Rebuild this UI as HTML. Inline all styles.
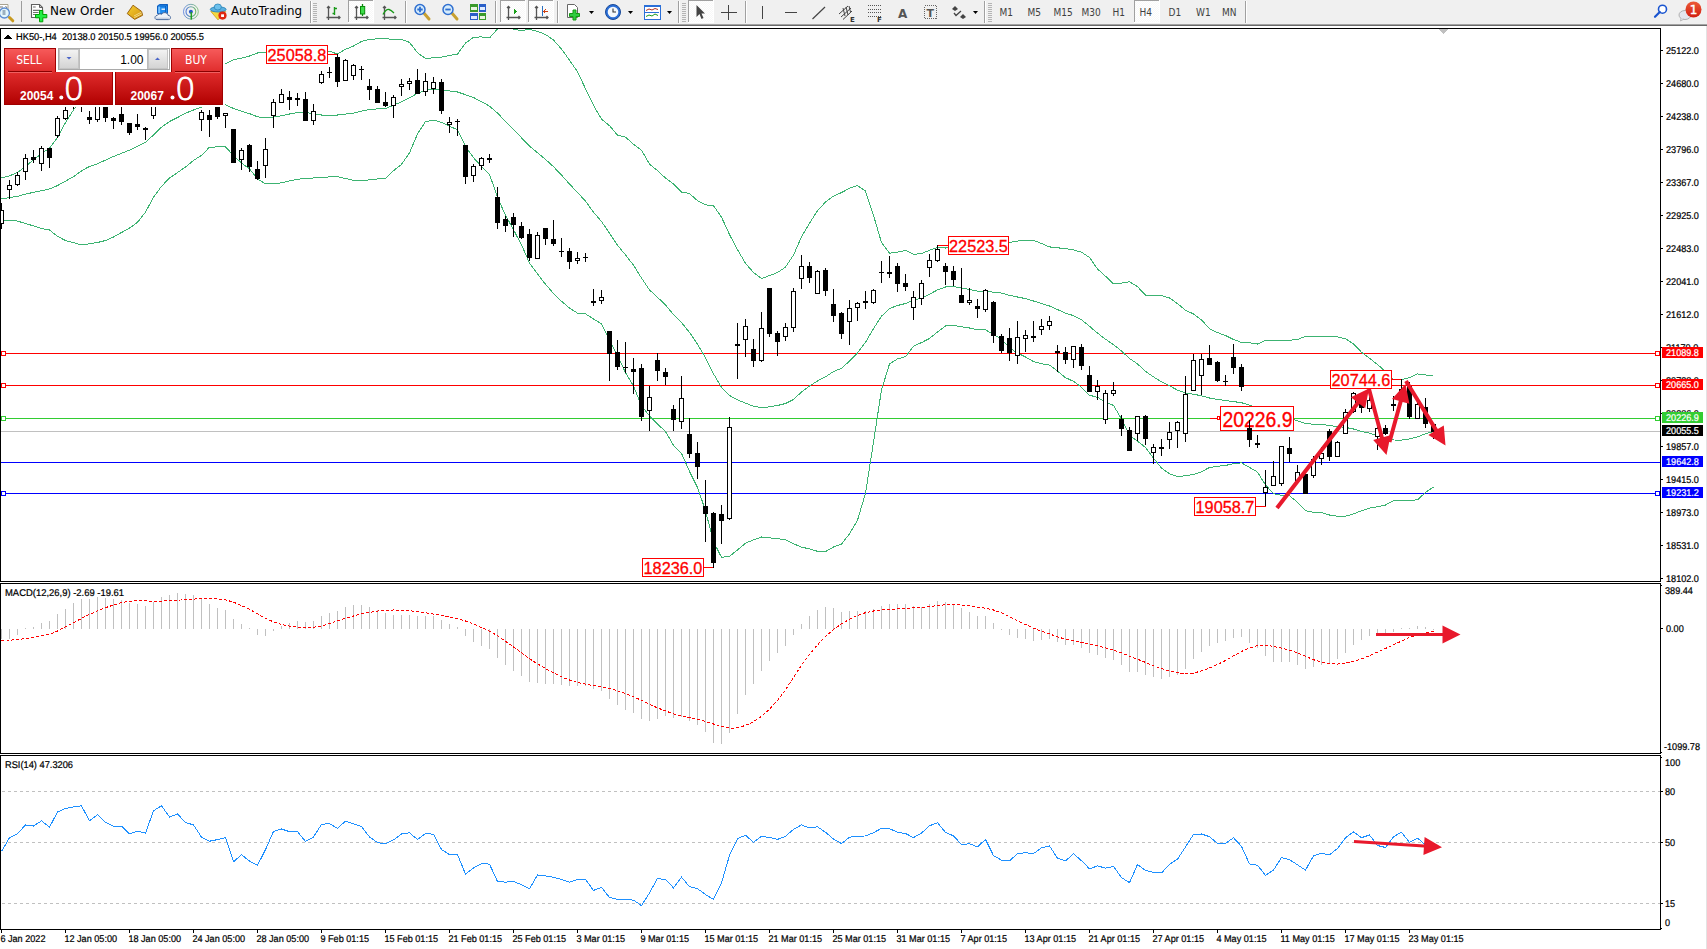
<!DOCTYPE html>
<html><head><meta charset="utf-8"><title>HK50 H4</title>
<style>
html,body{margin:0;padding:0;background:#fff;}
#root{position:relative;width:1707px;height:949px;overflow:hidden;background:#fff;}
text{white-space:pre}
</style></head><body><div id="root">
<svg width="1707" height="949" viewBox="0 0 1707 949" style="position:absolute;left:0;top:0" shape-rendering="crispEdges">
<defs><clipPath id="cm"><rect x="1" y="29" width="1659" height="552"/></clipPath><clipPath id="cd"><rect x="1" y="584" width="1659" height="169"/></clipPath><clipPath id="cr"><rect x="1" y="756" width="1659" height="173"/></clipPath></defs>
<defs><linearGradient id="pg" x1="0" y1="48" x2="0" y2="105" gradientUnits="userSpaceOnUse"><stop offset="0" stop-color="#f75c5c"/><stop offset="0.42" stop-color="#e02c2c"/><stop offset="1" stop-color="#b00000"/></linearGradient><linearGradient id="bg" x1="0" y1="49" x2="0" y2="69" gradientUnits="userSpaceOnUse"><stop offset="0" stop-color="#f4f4f4"/><stop offset="1" stop-color="#d2d2d2"/></linearGradient><pattern id="dith" width="2" height="2" patternUnits="userSpaceOnUse"><rect width="2" height="2" fill="#f8f8f8"/><rect width="1" height="1" fill="#fff"/><rect x="1" y="1" width="1" height="1" fill="#fff"/></pattern></defs>
<rect x="0" y="0" width="1707" height="24" fill="#f0f0f0"/>
<rect x="0" y="24" width="1707" height="1" fill="#a3a3a3"/>
<rect x="0" y="25" width="1707" height="1" fill="#696969"/>
<g shape-rendering="auto"><path d="M-1 4.5 H8 V16" fill="#fff" stroke="#a8a290" stroke-width="1"/><path d="M0 7 H3 M5.5 6 L7 8" stroke="#777" stroke-width="1"/><circle cx="4.4" cy="13" r="5" fill="#e4f6fc" stroke="#5a8cd2" stroke-width="1.3"/><rect x="2.5" y="10" width="3" height="5" fill="#9ab0c0"/><path d="M9.5 17.5 L12.8 20.8" stroke="#c89a20" stroke-width="3" stroke-linecap="round"/></g>
<rect x="21" y="1" width="1" height="21" fill="#9c9c9c"/>
<g shape-rendering="auto"><path d="M31.5 4.5 H39.5 L42.5 7.5 V17.5 H31.5 Z" fill="#fff" stroke="#606060" stroke-width="1.1"/><path d="M39.5 4.5 V7.5 H42.5" fill="none" stroke="#606060" stroke-width="1"/><path d="M33 7 H35.7 M33 10.4 H40 M33 12.5 H38.5 M33 14.5 H36" stroke="#707070" stroke-width="1.2"/><path d="M39.5 10.5 h3.3 v4 h4 v3.3 h-4 v4 h-3.3 v-4 h-4 v-3.3 h4 z" fill="#22ee44" stroke="#00a000" stroke-width="1"/></g>
<text x="50" y="15" style="font-family:'DejaVu Sans',sans-serif;font-size:12px">New Order</text>
<defs><linearGradient id="gold" x1="0" y1="0" x2="1" y2="1"><stop offset="0" stop-color="#f8d030"/><stop offset="1" stop-color="#d09010"/></linearGradient><linearGradient id="ring" x1="0" y1="0" x2="1" y2="0"><stop offset="0" stop-color="#3a6ad8"/><stop offset="1" stop-color="#58b050"/></linearGradient></defs>
<g shape-rendering="auto"><path d="M133 5.2 L141.6 11.4 L142.6 15.3 L134.6 19.4 L127.2 13.6 Z" fill="url(#gold)" stroke="#9a6410" stroke-width="1"/><path d="M134.3 17.6 L142 13.8 M134 16 L141.4 12.2" stroke="#f6e6a0" stroke-width="0.8"/></g>
<g shape-rendering="auto"><path d="M157.5 6 L159.5 4.5 H167.5 V13.5 H157.5 Z" fill="#1e8cf0" stroke="#1060c0" stroke-width="1"/><path d="M157.5 6 H165.5 L167.5 4.5 M165.5 6 V13" stroke="#0a58b8" stroke-width="0.8" fill="none"/><rect x="158.3" y="6.6" width="1.8" height="6.5" fill="#7cc4ff"/><rect x="161.5" y="8.5" width="3.5" height="1.4" fill="#e6f3ff"/><path d="M157 19.6 C154.3 19.6 154.2 15.6 157.3 15.4 C157.8 13.9 160.3 13.3 161.5 14.4 C162.6 11.8 167.6 11.9 168 15.3 C171.3 15.3 171.3 19.6 168.4 19.6 Z" fill="#eef2f8" stroke="#4a6a9c" stroke-width="1"/><path d="M156 18.3 H169.5" stroke="#c8d2e2" stroke-width="1.4"/></g>
<g shape-rendering="auto" fill="none"><circle cx="190.9" cy="11.7" r="7.4" stroke="url(#ring)" stroke-width="1" stroke-opacity="0.7"/><circle cx="190.9" cy="11.7" r="4.9" stroke="url(#ring)" stroke-width="1.1" stroke-opacity="0.85"/><circle cx="190.9" cy="11.7" r="2" fill="#2458c8"/><path d="M191.3 12 V19.6" stroke="#22a022" stroke-width="1.5"/></g>
<g shape-rendering="auto"><path d="M210.8 11.4 L225.8 11.4 L218 19.9 Z" fill="#f4d840" stroke="#d0a020" stroke-width="0.8"/><ellipse cx="218.2" cy="9.4" rx="7.9" ry="2.6" fill="#5ab0e0" stroke="#2a84b8" stroke-width="0.9"/><ellipse cx="217.8" cy="7" rx="3.6" ry="3" fill="#6cc0ec" stroke="#2a84b8" stroke-width="0.8"/><circle cx="222.5" cy="15.6" r="4.1" fill="#e02810"/><rect x="221.1" y="14.3" width="2.9" height="2.7" fill="#fff"/></g>
<text x="231" y="15" textLength="71" lengthAdjust="spacingAndGlyphs" style="font-family:'DejaVu Sans',sans-serif;font-size:12px">AutoTrading</text>
<rect x="310" y="1" width="1" height="22" fill="#a0a0a0"/><rect x="311" y="1" width="1" height="22" fill="#fff"/>
<rect x="313" y="3" width="4" height="1" fill="#b4b4b4"/><rect x="313" y="5" width="4" height="1" fill="#b4b4b4"/><rect x="313" y="7" width="4" height="1" fill="#b4b4b4"/><rect x="313" y="9" width="4" height="1" fill="#b4b4b4"/><rect x="313" y="11" width="4" height="1" fill="#b4b4b4"/><rect x="313" y="13" width="4" height="1" fill="#b4b4b4"/><rect x="313" y="15" width="4" height="1" fill="#b4b4b4"/><rect x="313" y="17" width="4" height="1" fill="#b4b4b4"/><rect x="313" y="19" width="4" height="1" fill="#b4b4b4"/><rect x="313" y="21" width="4" height="1" fill="#b4b4b4"/>
<g stroke="#555" stroke-width="1.3" fill="none" shape-rendering="auto"><path d="M328.5 20 V6.5 M327.0 8 L328.5 6.5 L330.0 8 M326.5 17.5 H340.0 M338.5 16.0 L340.0 17.5 L338.5 19.0"/></g>
<path d="M334.5 7 V15 M334.5 8.5 H337 M332.5 13.5 H334.5" stroke="#1a9a1a" stroke-width="1.4" fill="none" shape-rendering="auto"/>
<rect x="348" y="0" width="25" height="22" fill="url(#dith)"/><rect x="348" y="0" width="25" height="1" fill="#a0a0a0"/><rect x="348" y="0" width="1" height="22" fill="#a0a0a0"/><rect x="373" y="0" width="1" height="23" fill="#fff"/><rect x="348" y="22" width="26" height="1" fill="#fff"/>
<g stroke="#555" stroke-width="1.3" fill="none" shape-rendering="auto"><path d="M356.5 20 V6.5 M355.0 8 L356.5 6.5 L358.0 8 M354.5 17.5 H368.0 M366.5 16.0 L368.0 17.5 L366.5 19.0"/></g>
<g shape-rendering="auto"><path d="M362.5 4 V16" stroke="#0a8a0a" stroke-width="1.3"/><rect x="360.5" y="6.5" width="4.2" height="7.5" fill="#3ddc4a" stroke="#0a8a0a" stroke-width="1"/></g>
<g stroke="#555" stroke-width="1.3" fill="none" shape-rendering="auto"><path d="M384.5 20 V6.5 M383.0 8 L384.5 6.5 L386.0 8 M382.5 17.5 H396.0 M394.5 16.0 L396.0 17.5 L394.5 19.0"/></g>
<path d="M383 14.5 Q386 9 389 9.5 Q391 10 394 13" stroke="#1a9a1a" stroke-width="1.3" fill="none" shape-rendering="auto"/>
<rect x="405" y="1" width="1" height="22" fill="#a0a0a0"/><rect x="406" y="1" width="1" height="22" fill="#fff"/>
<g shape-rendering="auto"><path d="M423 12 L429 19" stroke="#c8a030" stroke-width="3" stroke-linecap="round"/><circle cx="420" cy="9.5" r="5" fill="#d6ecfc" stroke="#2f6fd0" stroke-width="1.5"/><path d="M417.3 9.5 H422.7 M420 6.8 V12.2" stroke="#2f6fd0" stroke-width="1.8"/></g>
<g shape-rendering="auto"><path d="M451 12 L457 19" stroke="#c8a030" stroke-width="3" stroke-linecap="round"/><circle cx="448" cy="9.5" r="5" fill="#d6ecfc" stroke="#2f6fd0" stroke-width="1.5"/><path d="M445.3 9.5 H450.7" stroke="#2f6fd0" stroke-width="1.8"/></g>
<g><rect x="470" y="4" width="7.5" height="7.5" fill="#3a9a2a"/><rect x="478.5" y="4" width="7.5" height="7.5" fill="#2a5fc8"/><rect x="470" y="12.5" width="7.5" height="7.5" fill="#2a5fc8"/><rect x="478.5" y="12.5" width="7.5" height="7.5" fill="#3a9a2a"/><rect x="471" y="7" width="5.5" height="3" fill="#e8f4e0"/><rect x="479.5" y="7" width="5.5" height="3" fill="#e0ecff"/><rect x="471" y="15.5" width="5.5" height="3" fill="#e0ecff"/><rect x="479.5" y="15.5" width="5.5" height="3" fill="#e8f4e0"/></g>
<rect x="495" y="1" width="1" height="22" fill="#a0a0a0"/><rect x="496" y="1" width="1" height="22" fill="#fff"/>
<rect x="500" y="0" width="25" height="22" fill="url(#dith)"/><rect x="500" y="0" width="25" height="1" fill="#a0a0a0"/><rect x="500" y="0" width="1" height="22" fill="#a0a0a0"/><rect x="525" y="0" width="1" height="23" fill="#fff"/><rect x="500" y="22" width="26" height="1" fill="#fff"/>
<g stroke="#555" stroke-width="1.3" fill="none" shape-rendering="auto"><path d="M508.5 20 V6.5 M507.0 8 L508.5 6.5 L510.0 8 M506.5 17.5 H520.0 M518.5 16.0 L520.0 17.5 L518.5 19.0"/></g>
<path d="M513.5 8 L517.5 11.5 L513.5 15 Z" fill="#1aa01a"/>
<rect x="528" y="0" width="25" height="22" fill="url(#dith)"/><rect x="528" y="0" width="25" height="1" fill="#a0a0a0"/><rect x="528" y="0" width="1" height="22" fill="#a0a0a0"/><rect x="553" y="0" width="1" height="23" fill="#fff"/><rect x="528" y="22" width="26" height="1" fill="#fff"/>
<g stroke="#555" stroke-width="1.3" fill="none" shape-rendering="auto"><path d="M536.5 20 V6.5 M535.0 8 L536.5 6.5 L538.0 8 M534.5 17.5 H548.0 M546.5 16.0 L548.0 17.5 L546.5 19.0"/></g>
<path d="M542.5 6 V16" stroke="#2a70c0" stroke-width="1.3"/><path d="M548 11.5 H544 M545.5 9.5 L543.5 11.5 L545.5 13.5" stroke="#d04010" stroke-width="1.3" fill="none"/>
<rect x="557" y="1" width="1" height="22" fill="#a0a0a0"/><rect x="558" y="1" width="1" height="22" fill="#fff"/>
<g shape-rendering="auto"><path d="M567.5 4.5 H574.5 L577.5 7.5 V17.5 H567.5 Z" fill="#fff" stroke="#666" stroke-width="1"/><path d="M573 10 h3 v3.5 h3.5 v3 h-3.5 v3.5 h-3 v-3.5 h-3.5 v-3 h3.5 z" fill="#2ecc40" stroke="#129a12" stroke-width="1"/></g>
<path d="M589 11 H594 L591.5 14 Z" fill="#000" shape-rendering="auto"/>
<g shape-rendering="auto"><circle cx="613" cy="12" r="7.5" fill="#2a6fd8" stroke="#1a4a98" stroke-width="1"/><circle cx="613" cy="12" r="5.3" fill="#f4f8fc"/><path d="M613 8.5 V12 H616" stroke="#333" stroke-width="1.1" fill="none"/></g>
<path d="M628 11 H633 L630.5 14 Z" fill="#000" shape-rendering="auto"/>
<g><rect x="644" y="5" width="16" height="14" fill="#fff" stroke="#2a6fd8" stroke-width="1"/><rect x="644" y="5" width="16" height="2" fill="#2a6fd8"/><rect x="645" y="12" width="14" height="1" fill="#2a6fd8"/><path d="M646 10.5 L649 9 L652 10 L655 8.5 L658 9.5" stroke="#b03020" stroke-width="1" fill="none" shape-rendering="auto"/><path d="M646 16.5 L649 15 L652 16 L655 14 L658 15.5" stroke="#1a9a1a" stroke-width="1" fill="none" shape-rendering="auto"/></g>
<path d="M667 11 H672 L669.5 14 Z" fill="#000" shape-rendering="auto"/>
<rect x="678" y="1" width="1" height="22" fill="#a0a0a0"/><rect x="679" y="1" width="1" height="22" fill="#fff"/>
<rect x="682" y="3" width="4" height="1" fill="#b4b4b4"/><rect x="682" y="5" width="4" height="1" fill="#b4b4b4"/><rect x="682" y="7" width="4" height="1" fill="#b4b4b4"/><rect x="682" y="9" width="4" height="1" fill="#b4b4b4"/><rect x="682" y="11" width="4" height="1" fill="#b4b4b4"/><rect x="682" y="13" width="4" height="1" fill="#b4b4b4"/><rect x="682" y="15" width="4" height="1" fill="#b4b4b4"/><rect x="682" y="17" width="4" height="1" fill="#b4b4b4"/><rect x="682" y="19" width="4" height="1" fill="#b4b4b4"/><rect x="682" y="21" width="4" height="1" fill="#b4b4b4"/>
<rect x="688" y="0" width="25" height="22" fill="url(#dith)"/><rect x="688" y="0" width="25" height="1" fill="#a0a0a0"/><rect x="688" y="0" width="1" height="22" fill="#a0a0a0"/><rect x="713" y="0" width="1" height="23" fill="#fff"/><rect x="688" y="22" width="26" height="1" fill="#fff"/>
<path d="M696.5 5 L696.5 17 L699.5 14 L701.5 19 L703.5 18 L701.5 13.5 L705 13.5 Z" fill="#444" shape-rendering="auto"/>
<path d="M721 12.5 H737 M728.5 5 V20" stroke="#444" stroke-width="1.2"/>
<rect x="745" y="1" width="1" height="22" fill="#a0a0a0"/><rect x="746" y="1" width="1" height="22" fill="#fff"/>
<rect x="762" y="6" width="1.3" height="13" fill="#444"/>
<rect x="785" y="12" width="12" height="1.3" fill="#444"/>
<path d="M812.5 19 L825 7" stroke="#444" stroke-width="1.2" shape-rendering="auto"/>
<g shape-rendering="auto" stroke="#444" stroke-width="1" fill="none"><path d="M839 14 L848 6 M841 17 L851 8 M843 19.5 L852 11 M843 8 L845 16 M846 7 L848 15 M849 6 L850.5 12"/></g><text x="850" y="21.5" style="font-family:'DejaVu Sans',sans-serif;font-size:7px;font-weight:bold;fill:#333">E</text>
<g fill="#555"><rect x="868" y="5" width="1" height="1"/><rect x="870" y="5" width="1" height="1"/><rect x="872" y="5" width="1" height="1"/><rect x="874" y="5" width="1" height="1"/><rect x="876" y="5" width="1" height="1"/><rect x="878" y="5" width="1" height="1"/><rect x="880" y="5" width="1" height="1"/><rect x="868" y="9" width="1" height="1"/><rect x="870" y="9" width="1" height="1"/><rect x="872" y="9" width="1" height="1"/><rect x="874" y="9" width="1" height="1"/><rect x="876" y="9" width="1" height="1"/><rect x="878" y="9" width="1" height="1"/><rect x="880" y="9" width="1" height="1"/><rect x="868" y="12" width="1" height="1"/><rect x="870" y="12" width="1" height="1"/><rect x="872" y="12" width="1" height="1"/><rect x="874" y="12" width="1" height="1"/><rect x="876" y="12" width="1" height="1"/><rect x="878" y="12" width="1" height="1"/><rect x="880" y="12" width="1" height="1"/><rect x="868" y="16" width="1" height="1"/><rect x="870" y="16" width="1" height="1"/><rect x="872" y="16" width="1" height="1"/><rect x="874" y="16" width="1" height="1"/><rect x="876" y="16" width="1" height="1"/><rect x="878" y="16" width="1" height="1"/><rect x="880" y="16" width="1" height="1"/></g><text x="877" y="22" style="font-family:'DejaVu Sans',sans-serif;font-size:7px;font-weight:bold;fill:#333">F</text>
<text x="898" y="17.5" style="font-family:'DejaVu Sans',sans-serif;font-size:12px;font-weight:bold;fill:#555">A</text>
<rect x="924.5" y="5.5" width="12" height="13" fill="none" stroke="#666" stroke-width="1" stroke-dasharray="1 1"/><text x="926.5" y="16.5" style="font-family:'DejaVu Sans',sans-serif;font-size:11px;font-weight:bold;fill:#555">T</text>
<g shape-rendering="auto" fill="#444"><path d="M955 6 L958 9 L955 11 L952 9 Z"/><path d="M963 14 L966 17 L963 19 L960 17 Z"/><path d="M954 13 L956 15.5 L961 11" stroke="#444" stroke-width="1.3" fill="none"/></g>
<path d="M973 11 H978 L975.5 14 Z" fill="#000" shape-rendering="auto"/>
<rect x="984" y="1" width="1" height="22" fill="#a0a0a0"/><rect x="985" y="1" width="1" height="22" fill="#fff"/>
<rect x="988" y="3" width="4" height="1" fill="#b4b4b4"/><rect x="988" y="5" width="4" height="1" fill="#b4b4b4"/><rect x="988" y="7" width="4" height="1" fill="#b4b4b4"/><rect x="988" y="9" width="4" height="1" fill="#b4b4b4"/><rect x="988" y="11" width="4" height="1" fill="#b4b4b4"/><rect x="988" y="13" width="4" height="1" fill="#b4b4b4"/><rect x="988" y="15" width="4" height="1" fill="#b4b4b4"/><rect x="988" y="17" width="4" height="1" fill="#b4b4b4"/><rect x="988" y="19" width="4" height="1" fill="#b4b4b4"/><rect x="988" y="21" width="4" height="1" fill="#b4b4b4"/>
<rect x="1134" y="0" width="25" height="22" fill="url(#dith)"/><rect x="1134" y="0" width="25" height="1" fill="#a0a0a0"/><rect x="1134" y="0" width="1" height="22" fill="#a0a0a0"/><rect x="1159" y="0" width="1" height="23" fill="#fff"/><rect x="1134" y="22" width="26" height="1" fill="#fff"/>
<text x="999.5" y="16" style="font-family:'DejaVu Sans Condensed','DejaVu Sans',sans-serif;font-stretch:condensed;font-size:10px;fill:#404040">M1</text>
<text x="1027.5" y="16" style="font-family:'DejaVu Sans Condensed','DejaVu Sans',sans-serif;font-stretch:condensed;font-size:10px;fill:#404040">M5</text>
<text x="1053.5" y="16" style="font-family:'DejaVu Sans Condensed','DejaVu Sans',sans-serif;font-stretch:condensed;font-size:10px;fill:#404040">M15</text>
<text x="1081.5" y="16" style="font-family:'DejaVu Sans Condensed','DejaVu Sans',sans-serif;font-stretch:condensed;font-size:10px;fill:#404040">M30</text>
<text x="1112.5" y="16" style="font-family:'DejaVu Sans Condensed','DejaVu Sans',sans-serif;font-stretch:condensed;font-size:10px;fill:#404040">H1</text>
<text x="1139.5" y="16" style="font-family:'DejaVu Sans Condensed','DejaVu Sans',sans-serif;font-stretch:condensed;font-size:10px;fill:#404040">H4</text>
<text x="1168.5" y="16" style="font-family:'DejaVu Sans Condensed','DejaVu Sans',sans-serif;font-stretch:condensed;font-size:10px;fill:#404040">D1</text>
<text x="1196" y="16" style="font-family:'DejaVu Sans Condensed','DejaVu Sans',sans-serif;font-stretch:condensed;font-size:10px;fill:#404040">W1</text>
<text x="1222" y="16" style="font-family:'DejaVu Sans Condensed','DejaVu Sans',sans-serif;font-stretch:condensed;font-size:10px;fill:#404040">MN</text>
<rect x="1245" y="1" width="1" height="22" fill="#a0a0a0"/><rect x="1246" y="1" width="1" height="22" fill="#fff"/>
<g shape-rendering="auto"><circle cx="1662.5" cy="9.2" r="4" fill="#fff" stroke="#1a55d0" stroke-width="1.6"/><path d="M1659.8 12 L1655 16.8" stroke="#1a55d0" stroke-width="2.2" stroke-linecap="round"/></g>
<g shape-rendering="auto"><ellipse cx="1685" cy="15" rx="6" ry="4.5" fill="#e4e6ee" stroke="#b0b0b0" stroke-width="1"/><path d="M1681 18 L1680.5 21 L1684 19" fill="#e4e6ee" stroke="#b0b0b0" stroke-width="0.8"/><defs><linearGradient id="badge" x1="0" y1="0" x2="0" y2="1"><stop offset="0" stop-color="#ec5a38"/><stop offset="1" stop-color="#d21e10"/></linearGradient></defs><circle cx="1693.5" cy="9.5" r="8" fill="url(#badge)"/><text x="1693.5" y="14" text-anchor="middle" style="font-family:'DejaVu Sans',sans-serif;font-size:12px;fill:#fff;stroke:#fff;stroke-width:0.4px">1</text></g>
<rect x="1706" y="26" width="1" height="923" fill="#e3e3e3"/>
<g clip-path="url(#cm)">
<rect x="1" y="353" width="1659" height="1" fill="#ff0000"/>
<rect x="1.5" y="351.5" width="4" height="4" fill="#fff" stroke="#ff0000" stroke-width="1"/>
<rect x="1655.5" y="351.5" width="4" height="4" fill="#fff" stroke="#ff0000" stroke-width="1"/>
<rect x="1" y="385" width="1659" height="1" fill="#ff0000"/>
<rect x="1.5" y="383.5" width="4" height="4" fill="#fff" stroke="#ff0000" stroke-width="1"/>
<rect x="1655.5" y="383.5" width="4" height="4" fill="#fff" stroke="#ff0000" stroke-width="1"/>
<rect x="1" y="418" width="1659" height="1" fill="#32cd32"/>
<rect x="1.5" y="416.5" width="4" height="4" fill="#fff" stroke="#32cd32" stroke-width="1"/>
<rect x="1655.5" y="416.5" width="4" height="4" fill="#fff" stroke="#32cd32" stroke-width="1"/>
<rect x="1" y="431" width="1659" height="1" fill="#c0c0c0"/>
<rect x="1" y="462" width="1659" height="1" fill="#0000ff"/>
<rect x="1" y="493" width="1659" height="1" fill="#0000ff"/>
<rect x="1.5" y="491.5" width="4" height="4" fill="#fff" stroke="#0000ff" stroke-width="1"/>
<rect x="1655.5" y="491.5" width="4" height="4" fill="#fff" stroke="#0000ff" stroke-width="1"/>
<polyline points="1.5,178.0 9.5,175.9 17.5,172.5 25.5,166.3 33.5,160.0 41.5,153.5 49.5,148.2 57.5,137.5 65.5,122.5 73.5,110.0 81.5,98.5 89.5,92.5 97.5,88.5 105.5,85.5 113.5,82.5 121.5,80.5 129.5,78.5 137.5,76.5 145.5,74.5 153.5,72.5 161.5,70.5 169.5,68.5 177.5,66.5 185.5,65.5 193.5,64.5 201.5,64.0 209.5,64.0 217.5,63.9 225.5,63.8 233.5,59.8 241.5,58.2 249.5,56.0 257.5,53.0 265.5,52.5 273.5,52.5 281.5,52.5 289.5,52.0 297.5,52.0 305.5,52.0 313.5,51.8 321.5,51.5 329.5,51.3 337.5,54.0 345.5,49.3 353.5,46.0 361.5,41.4 369.5,39.5 377.5,38.8 385.5,38.5 393.5,39.8 401.5,39.4 409.5,42.4 417.5,52.8 425.5,58.4 433.5,57.8 441.5,57.2 449.5,55.5 457.5,54.1 465.5,43.1 473.5,37.3 481.5,36.9 489.5,37.9 497.5,29.0 505.5,27.6 513.5,29.0 521.5,30.7 529.5,29.3 537.5,31.4 545.5,34.5 553.5,40.0 561.5,49.0 569.5,60.2 577.5,71.7 585.5,88.7 593.5,105.4 601.5,119.1 609.5,125.7 617.5,135.2 625.5,137.2 633.5,144.2 641.5,150.3 649.5,164.1 657.5,170.6 665.5,178.1 673.5,183.9 681.5,192.0 689.5,193.5 697.5,200.7 705.5,204.8 713.5,205.7 721.5,217.1 729.5,234.6 737.5,249.7 745.5,263.2 753.5,272.6 761.5,278.5 769.5,275.6 777.5,272.5 785.5,267.1 793.5,255.1 801.5,236.8 809.5,223.2 817.5,210.8 825.5,202.0 833.5,196.1 841.5,192.6 849.5,188.2 857.5,185.5 865.5,191.1 873.5,215.3 881.5,242.6 889.5,253.3 897.5,252.1 905.5,250.4 913.5,254.4 921.5,253.6 929.5,250.3 937.5,247.5 945.5,248.0 953.5,247.4 961.5,249.7 969.5,250.7 977.5,252.5 985.5,252.5 993.5,250.1 1001.5,247.0 1009.5,242.5 1017.5,241.1 1025.5,240.3 1033.5,240.4 1041.5,243.5 1049.5,246.9 1057.5,247.8 1065.5,248.6 1073.5,249.9 1081.5,252.2 1089.5,257.4 1097.5,269.0 1105.5,276.2 1113.5,284.0 1121.5,283.1 1129.5,281.7 1137.5,286.7 1145.5,295.2 1153.5,295.7 1161.5,295.7 1169.5,297.9 1177.5,303.6 1185.5,310.3 1193.5,313.9 1201.5,320.0 1209.5,328.6 1217.5,332.6 1225.5,335.5 1233.5,339.5 1241.5,342.4 1249.5,342.8 1257.5,344.0 1265.5,340.4 1273.5,340.4 1281.5,340.3 1289.5,340.2 1297.5,339.5 1305.5,336.4 1313.5,336.2 1321.5,336.1 1329.5,336.2 1337.5,336.9 1345.5,338.7 1353.5,344.1 1361.5,352.2 1369.5,358.3 1377.5,364.5 1385.5,371.5 1393.5,379.2 1401.5,379.6 1409.5,377.6 1417.5,373.9 1425.5,374.9 1433.5,376.1" fill="none" stroke="#3cb371" stroke-width="1" />
<polyline points="1.5,198.9 9.5,197.7 17.5,196.3 25.5,194.2 33.5,192.3 41.5,190.7 49.5,189.0 57.5,185.6 65.5,181.1 73.5,176.7 81.5,170.9 89.5,166.4 97.5,163.8 105.5,160.1 113.5,156.5 121.5,153.3 129.5,150.1 137.5,146.3 145.5,142.2 153.5,135.0 161.5,127.2 169.5,121.5 177.5,117.5 185.5,113.2 193.5,110.0 201.5,107.2 209.5,105.5 217.5,105.0 225.5,104.8 233.5,108.5 241.5,111.3 249.5,113.6 257.5,116.8 265.5,117.8 273.5,117.0 281.5,115.7 289.5,114.0 297.5,112.6 305.5,112.5 313.5,113.7 321.5,115.0 329.5,115.0 337.5,115.0 345.5,114.1 353.5,113.2 361.5,111.1 369.5,109.6 377.5,108.9 385.5,108.5 393.5,105.2 401.5,101.9 409.5,97.7 417.5,93.4 425.5,90.0 433.5,89.0 441.5,89.8 449.5,90.9 457.5,92.0 465.5,94.7 473.5,97.5 481.5,101.7 489.5,106.1 497.5,113.1 505.5,121.4 513.5,129.4 521.5,137.8 529.5,146.1 537.5,152.7 545.5,159.4 553.5,166.7 561.5,175.1 569.5,184.1 577.5,192.4 585.5,201.2 593.5,212.2 601.5,221.5 609.5,233.1 617.5,245.3 625.5,254.9 633.5,265.2 641.5,278.1 649.5,289.9 657.5,297.3 665.5,304.9 673.5,314.6 681.5,322.6 689.5,332.4 697.5,344.1 705.5,357.8 713.5,373.8 721.5,387.2 729.5,395.5 737.5,399.8 745.5,403.2 753.5,406.2 761.5,407.7 769.5,406.8 777.5,405.5 785.5,403.5 793.5,399.5 801.5,392.0 809.5,386.0 817.5,381.0 825.5,376.8 833.5,371.6 841.5,368.3 849.5,361.1 857.5,352.8 865.5,342.3 873.5,328.6 881.5,316.2 889.5,308.6 897.5,305.5 905.5,303.5 913.5,300.3 921.5,298.1 929.5,294.4 937.5,289.8 945.5,287.0 953.5,286.4 961.5,288.2 969.5,289.4 977.5,291.2 985.5,291.2 993.5,292.2 1001.5,293.1 1009.5,295.3 1017.5,297.0 1025.5,298.6 1033.5,301.0 1041.5,303.6 1049.5,306.0 1057.5,309.5 1065.5,313.2 1073.5,315.6 1081.5,319.7 1089.5,326.3 1097.5,333.1 1105.5,339.2 1113.5,344.7 1121.5,351.0 1129.5,358.5 1137.5,363.9 1145.5,371.4 1153.5,376.9 1161.5,381.9 1169.5,385.8 1177.5,390.1 1185.5,393.0 1193.5,394.2 1201.5,395.8 1209.5,398.0 1217.5,399.4 1225.5,400.5 1233.5,401.6 1241.5,402.7 1249.5,405.1 1257.5,408.1 1265.5,412.7 1273.5,417.0 1281.5,417.9 1289.5,418.0 1297.5,420.8 1305.5,423.6 1313.5,424.2 1321.5,424.3 1329.5,425.6 1337.5,426.6 1345.5,427.4 1353.5,429.0 1361.5,431.5 1369.5,433.2 1377.5,435.6 1385.5,438.2 1393.5,440.0 1401.5,440.1 1409.5,438.9 1417.5,436.9 1425.5,433.7 1433.5,431.5" fill="none" stroke="#3cb371" stroke-width="1" />
<polyline points="1.5,220.3 9.5,220.1 17.5,221.1 25.5,223.5 33.5,225.9 41.5,228.6 49.5,229.9 57.5,236.4 65.5,240.5 73.5,242.7 81.5,245.0 89.5,243.7 97.5,242.5 105.5,240.5 113.5,237.0 121.5,232.5 129.5,228.1 137.5,222.3 145.5,212.1 153.5,197.2 161.5,186.3 169.5,178.1 177.5,172.6 185.5,167.0 193.5,160.5 201.5,155.3 209.5,147.2 217.5,146.9 225.5,146.9 233.5,155.5 241.5,163.0 249.5,168.8 257.5,179.0 265.5,183.7 273.5,183.7 281.5,182.9 289.5,180.9 297.5,179.3 305.5,178.5 313.5,178.0 321.5,177.5 329.5,176.9 337.5,176.7 345.5,178.5 353.5,180.4 361.5,180.8 369.5,179.8 377.5,179.0 385.5,178.6 393.5,170.7 401.5,164.4 409.5,152.9 417.5,133.9 425.5,121.6 433.5,120.1 441.5,122.4 449.5,126.3 457.5,129.8 465.5,146.4 473.5,157.7 481.5,166.5 489.5,174.3 497.5,197.3 505.5,215.2 513.5,229.7 521.5,244.9 529.5,263.0 537.5,274.0 545.5,284.3 553.5,293.4 561.5,301.2 569.5,308.0 577.5,313.1 585.5,313.8 593.5,319.0 601.5,323.9 609.5,340.4 617.5,355.5 625.5,372.6 633.5,386.1 641.5,405.9 649.5,415.8 657.5,424.0 665.5,431.6 673.5,445.3 681.5,453.3 689.5,471.4 697.5,487.4 705.5,510.7 713.5,541.8 721.5,557.3 729.5,556.3 737.5,550.0 745.5,543.2 753.5,539.8 761.5,537.0 769.5,537.9 777.5,538.5 785.5,539.9 793.5,543.8 801.5,547.1 809.5,548.9 817.5,551.3 825.5,551.5 833.5,547.0 841.5,544.0 849.5,533.9 857.5,520.2 865.5,493.4 873.5,442.0 881.5,389.9 889.5,363.9 897.5,358.9 905.5,356.7 913.5,346.2 921.5,342.6 929.5,338.5 937.5,332.0 945.5,326.0 953.5,325.4 961.5,326.8 969.5,328.0 977.5,329.9 985.5,329.9 993.5,334.3 1001.5,339.1 1009.5,348.1 1017.5,352.9 1025.5,357.0 1033.5,361.6 1041.5,363.8 1049.5,365.1 1057.5,371.1 1065.5,377.7 1073.5,381.3 1081.5,387.3 1089.5,395.2 1097.5,397.3 1105.5,402.2 1113.5,405.4 1121.5,418.9 1129.5,435.3 1137.5,441.2 1145.5,447.5 1153.5,458.2 1161.5,468.1 1169.5,473.8 1177.5,476.5 1185.5,475.8 1193.5,474.5 1201.5,471.7 1209.5,467.5 1217.5,466.3 1225.5,465.5 1233.5,463.6 1241.5,462.9 1249.5,467.4 1257.5,472.1 1265.5,485.0 1273.5,493.6 1281.5,495.4 1289.5,495.8 1297.5,502.2 1305.5,510.8 1313.5,512.2 1321.5,512.6 1329.5,515.0 1337.5,516.2 1345.5,516.2 1353.5,513.9 1361.5,510.8 1369.5,508.1 1377.5,506.7 1385.5,505.0 1393.5,500.8 1401.5,500.6 1409.5,500.2 1417.5,499.9 1425.5,492.5 1433.5,487.0" fill="none" stroke="#3cb371" stroke-width="1" />
<rect x="328" y="54" width="10" height="1" fill="#ff0000"/>
<rect x="266.5" y="45.5" width="61" height="18" fill="#fff" stroke="#ff0000" stroke-width="1"/>
<text x="297.0" y="60.7" text-anchor="middle" style="font-family:'Liberation Sans',sans-serif;font-size:16.3px;fill:#ff0000;stroke:#ff0000;stroke-width:0.3px">25058.8</text>
<rect x="937" y="245" width="12" height="1" fill="#ff0000"/>
<rect x="948.5" y="236.5" width="60" height="18" fill="#fff" stroke="#ff0000" stroke-width="1"/>
<text x="978.5" y="251.7" text-anchor="middle" style="font-family:'Liberation Sans',sans-serif;font-size:16.3px;fill:#ff0000;stroke:#ff0000;stroke-width:0.3px">22523.5</text>
<rect x="704" y="567" width="10" height="1" fill="#ff0000"/>
<rect x="642.5" y="558.5" width="61" height="18" fill="#fff" stroke="#ff0000" stroke-width="1"/>
<text x="673.0" y="573.7" text-anchor="middle" style="font-family:'Liberation Sans',sans-serif;font-size:16.3px;fill:#ff0000;stroke:#ff0000;stroke-width:0.3px">18236.0</text>
<rect x="1392" y="379" width="10" height="1" fill="#ff0000"/>
<rect x="1330.5" y="370.5" width="61" height="18" fill="#fff" stroke="#ff0000" stroke-width="1"/>
<text x="1361.0" y="385.7" text-anchor="middle" style="font-family:'Liberation Sans',sans-serif;font-size:16.3px;fill:#ff0000;stroke:#ff0000;stroke-width:0.3px">20744.6</text>
<rect x="1256" y="506" width="10" height="1" fill="#ff0000"/>
<rect x="1194.5" y="497.5" width="61" height="18" fill="#fff" stroke="#ff0000" stroke-width="1"/>
<text x="1225.0" y="512.7" text-anchor="middle" style="font-family:'Liberation Sans',sans-serif;font-size:16.3px;fill:#ff0000;stroke:#ff0000;stroke-width:0.3px">19058.7</text>
<rect x="1210" y="418" width="8" height="1" fill="#ff0000"/>
<rect x="1217.5" y="416.5" width="2" height="3" fill="#fff" stroke="#ff0000" stroke-width="1"/>
<rect x="1220.5" y="406.5" width="73" height="24" fill="#fff" stroke="#ff0000" stroke-width="1"/>
<text x="1257.5" y="427" text-anchor="middle" style="font-family:'Liberation Sans',sans-serif;font-size:22.5px;fill:#ff0000;stroke:#ff0000;stroke-width:0.35px" textLength="70" lengthAdjust="spacingAndGlyphs">20226.9</text>
<g fill="#000">
<rect x="1" y="203" width="1" height="26"/>
<rect x="-1" y="210" width="5" height="14"/>
<rect x="0" y="211" width="3" height="12" fill="#fff"/>
<rect x="9" y="180" width="1" height="19"/>
<rect x="7" y="185" width="5" height="5"/>
<rect x="8" y="186" width="3" height="3" fill="#fff"/>
<rect x="17" y="172" width="1" height="14"/>
<rect x="15" y="175" width="5" height="10"/>
<rect x="16" y="176" width="3" height="8" fill="#fff"/>
<rect x="25" y="154" width="1" height="26"/>
<rect x="23" y="158" width="5" height="14"/>
<rect x="24" y="159" width="3" height="12" fill="#fff"/>
<rect x="33" y="150" width="1" height="13"/>
<rect x="31" y="157" width="5" height="3"/>
<rect x="41" y="146" width="1" height="25"/>
<rect x="39" y="148" width="5" height="16"/>
<rect x="40" y="149" width="3" height="14" fill="#fff"/>
<rect x="49" y="148" width="1" height="20"/>
<rect x="47" y="148" width="5" height="10"/>
<rect x="57" y="116" width="1" height="22"/>
<rect x="55" y="118" width="5" height="18"/>
<rect x="56" y="119" width="3" height="16" fill="#fff"/>
<rect x="65" y="107" width="1" height="13"/>
<rect x="63" y="110" width="5" height="9"/>
<rect x="64" y="111" width="3" height="7" fill="#fff"/>
<rect x="73" y="95" width="1" height="14"/>
<rect x="71" y="98" width="5" height="6"/>
<rect x="72" y="99" width="3" height="4" fill="#fff"/>
<rect x="81" y="90" width="1" height="22"/>
<rect x="79" y="95" width="5" height="5"/>
<rect x="89" y="111" width="1" height="13"/>
<rect x="87" y="117" width="5" height="3"/>
<rect x="97" y="95" width="1" height="27"/>
<rect x="95" y="98" width="5" height="22"/>
<rect x="96" y="99" width="3" height="20" fill="#fff"/>
<rect x="105" y="100" width="1" height="22"/>
<rect x="103" y="107" width="5" height="11"/>
<rect x="113" y="117" width="1" height="12"/>
<rect x="111" y="118" width="5" height="3"/>
<rect x="121" y="107" width="1" height="18"/>
<rect x="119" y="114" width="5" height="8"/>
<rect x="129" y="123" width="1" height="12"/>
<rect x="127" y="123" width="5" height="10"/>
<rect x="137" y="114" width="1" height="16"/>
<rect x="135" y="124" width="5" height="3"/>
<rect x="145" y="127" width="1" height="13"/>
<rect x="143" y="128" width="5" height="2"/>
<rect x="153" y="95" width="1" height="24"/>
<rect x="151" y="100" width="5" height="16"/>
<rect x="152" y="101" width="3" height="14" fill="#fff"/>
<rect x="161" y="85" width="1" height="18"/>
<rect x="159" y="88" width="5" height="12"/>
<rect x="160" y="89" width="3" height="10" fill="#fff"/>
<rect x="169" y="75" width="1" height="23"/>
<rect x="167" y="80" width="5" height="10"/>
<rect x="168" y="81" width="3" height="8" fill="#fff"/>
<rect x="177" y="72" width="1" height="23"/>
<rect x="175" y="78" width="5" height="8"/>
<rect x="185" y="70" width="1" height="30"/>
<rect x="183" y="76" width="5" height="16"/>
<rect x="184" y="77" width="3" height="14" fill="#fff"/>
<rect x="193" y="78" width="1" height="24"/>
<rect x="191" y="85" width="5" height="10"/>
<rect x="201" y="110" width="1" height="21"/>
<rect x="199" y="112" width="5" height="8"/>
<rect x="200" y="113" width="3" height="6" fill="#fff"/>
<rect x="209" y="110" width="1" height="27"/>
<rect x="207" y="115" width="5" height="5"/>
<rect x="217" y="100" width="1" height="19"/>
<rect x="215" y="107" width="5" height="10"/>
<rect x="225" y="113" width="1" height="15"/>
<rect x="223" y="113" width="5" height="3"/>
<rect x="224" y="114" width="3" height="1" fill="#fff"/>
<rect x="233" y="129" width="1" height="34"/>
<rect x="231" y="129" width="5" height="34"/>
<rect x="241" y="148" width="1" height="22"/>
<rect x="239" y="150" width="5" height="10"/>
<rect x="240" y="151" width="3" height="8" fill="#fff"/>
<rect x="249" y="144" width="1" height="28"/>
<rect x="247" y="145" width="5" height="22"/>
<rect x="257" y="161" width="1" height="19"/>
<rect x="255" y="169" width="5" height="10"/>
<rect x="265" y="138" width="1" height="40"/>
<rect x="263" y="149" width="5" height="17"/>
<rect x="264" y="150" width="3" height="15" fill="#fff"/>
<rect x="273" y="99" width="1" height="29"/>
<rect x="271" y="102" width="5" height="14"/>
<rect x="272" y="103" width="3" height="12" fill="#fff"/>
<rect x="281" y="89" width="1" height="14"/>
<rect x="279" y="94" width="5" height="9"/>
<rect x="280" y="95" width="3" height="7" fill="#fff"/>
<rect x="289" y="91" width="1" height="19"/>
<rect x="287" y="97" width="5" height="3"/>
<rect x="297" y="93" width="1" height="13"/>
<rect x="295" y="98" width="5" height="2"/>
<rect x="305" y="92" width="1" height="29"/>
<rect x="303" y="99" width="5" height="22"/>
<rect x="313" y="104" width="1" height="21"/>
<rect x="311" y="111" width="5" height="10"/>
<rect x="312" y="112" width="3" height="8" fill="#fff"/>
<rect x="321" y="71" width="1" height="13"/>
<rect x="319" y="74" width="5" height="9"/>
<rect x="320" y="75" width="3" height="7" fill="#fff"/>
<rect x="329" y="67" width="1" height="11"/>
<rect x="327" y="72" width="5" height="1"/>
<rect x="337" y="54" width="1" height="33"/>
<rect x="335" y="57" width="5" height="25"/>
<rect x="345" y="59" width="1" height="22"/>
<rect x="343" y="60" width="5" height="21"/>
<rect x="344" y="61" width="3" height="19" fill="#fff"/>
<rect x="353" y="64" width="1" height="16"/>
<rect x="351" y="65" width="5" height="11"/>
<rect x="352" y="66" width="3" height="9" fill="#fff"/>
<rect x="361" y="66" width="1" height="14"/>
<rect x="359" y="69" width="5" height="1"/>
<rect x="369" y="79" width="1" height="21"/>
<rect x="367" y="86" width="5" height="4"/>
<rect x="377" y="86" width="1" height="17"/>
<rect x="375" y="89" width="5" height="14"/>
<rect x="385" y="92" width="1" height="15"/>
<rect x="383" y="102" width="5" height="4"/>
<rect x="393" y="95" width="1" height="23"/>
<rect x="391" y="97" width="5" height="9"/>
<rect x="392" y="98" width="3" height="7" fill="#fff"/>
<rect x="401" y="79" width="1" height="17"/>
<rect x="399" y="84" width="5" height="3"/>
<rect x="400" y="85" width="3" height="1" fill="#fff"/>
<rect x="409" y="78" width="1" height="12"/>
<rect x="407" y="81" width="5" height="3"/>
<rect x="408" y="82" width="3" height="1" fill="#fff"/>
<rect x="417" y="69" width="1" height="25"/>
<rect x="415" y="80" width="5" height="14"/>
<rect x="425" y="73" width="1" height="23"/>
<rect x="423" y="81" width="5" height="11"/>
<rect x="424" y="82" width="3" height="9" fill="#fff"/>
<rect x="433" y="77" width="1" height="17"/>
<rect x="431" y="82" width="5" height="7"/>
<rect x="432" y="83" width="3" height="5" fill="#fff"/>
<rect x="441" y="79" width="1" height="35"/>
<rect x="439" y="82" width="5" height="29"/>
<rect x="449" y="117" width="1" height="16"/>
<rect x="447" y="122" width="5" height="3"/>
<rect x="448" y="123" width="3" height="1" fill="#fff"/>
<rect x="457" y="119" width="1" height="17"/>
<rect x="455" y="121" width="5" height="1"/>
<rect x="465" y="145" width="1" height="39"/>
<rect x="463" y="145" width="5" height="32"/>
<rect x="473" y="164" width="1" height="18"/>
<rect x="471" y="166" width="5" height="10"/>
<rect x="472" y="167" width="3" height="8" fill="#fff"/>
<rect x="481" y="157" width="1" height="13"/>
<rect x="479" y="158" width="5" height="8"/>
<rect x="480" y="159" width="3" height="6" fill="#fff"/>
<rect x="489" y="154" width="1" height="9"/>
<rect x="487" y="158" width="5" height="2"/>
<rect x="497" y="187" width="1" height="42"/>
<rect x="495" y="197" width="5" height="26"/>
<rect x="505" y="216" width="1" height="16"/>
<rect x="503" y="219" width="5" height="7"/>
<rect x="513" y="213" width="1" height="24"/>
<rect x="511" y="217" width="5" height="8"/>
<rect x="521" y="222" width="1" height="17"/>
<rect x="519" y="226" width="5" height="12"/>
<rect x="529" y="229" width="1" height="32"/>
<rect x="527" y="234" width="5" height="24"/>
<rect x="537" y="232" width="1" height="27"/>
<rect x="535" y="235" width="5" height="24"/>
<rect x="536" y="236" width="3" height="22" fill="#fff"/>
<rect x="545" y="228" width="1" height="17"/>
<rect x="543" y="228" width="5" height="11"/>
<rect x="553" y="220" width="1" height="26"/>
<rect x="551" y="239" width="5" height="5"/>
<rect x="561" y="238" width="1" height="19"/>
<rect x="559" y="251" width="5" height="1"/>
<rect x="569" y="248" width="1" height="21"/>
<rect x="567" y="251" width="5" height="11"/>
<rect x="577" y="252" width="1" height="12"/>
<rect x="575" y="258" width="5" height="3"/>
<rect x="576" y="259" width="3" height="1" fill="#fff"/>
<rect x="585" y="253" width="1" height="9"/>
<rect x="583" y="257" width="5" height="1"/>
<rect x="593" y="289" width="1" height="17"/>
<rect x="591" y="301" width="5" height="2"/>
<rect x="601" y="290" width="1" height="14"/>
<rect x="599" y="297" width="5" height="4"/>
<rect x="600" y="298" width="3" height="2" fill="#fff"/>
<rect x="609" y="331" width="1" height="50"/>
<rect x="607" y="331" width="5" height="23"/>
<rect x="617" y="340" width="1" height="30"/>
<rect x="615" y="352" width="5" height="15"/>
<rect x="625" y="342" width="1" height="31"/>
<rect x="623" y="367" width="5" height="1"/>
<rect x="633" y="358" width="1" height="36"/>
<rect x="631" y="369" width="5" height="3"/>
<rect x="641" y="364" width="1" height="57"/>
<rect x="639" y="368" width="5" height="49"/>
<rect x="649" y="386" width="1" height="45"/>
<rect x="647" y="397" width="5" height="14"/>
<rect x="648" y="398" width="3" height="12" fill="#fff"/>
<rect x="657" y="353" width="1" height="28"/>
<rect x="655" y="360" width="5" height="11"/>
<rect x="665" y="368" width="1" height="17"/>
<rect x="663" y="372" width="5" height="5"/>
<rect x="673" y="405" width="1" height="26"/>
<rect x="671" y="409" width="5" height="11"/>
<rect x="681" y="376" width="1" height="53"/>
<rect x="679" y="398" width="5" height="24"/>
<rect x="680" y="399" width="3" height="22" fill="#fff"/>
<rect x="689" y="418" width="1" height="40"/>
<rect x="687" y="434" width="5" height="20"/>
<rect x="697" y="442" width="1" height="37"/>
<rect x="695" y="453" width="5" height="14"/>
<rect x="705" y="480" width="1" height="62"/>
<rect x="703" y="506" width="5" height="8"/>
<rect x="713" y="512" width="1" height="56"/>
<rect x="711" y="513" width="5" height="50"/>
<rect x="721" y="505" width="1" height="39"/>
<rect x="719" y="514" width="5" height="7"/>
<rect x="729" y="417" width="1" height="103"/>
<rect x="727" y="427" width="5" height="92"/>
<rect x="728" y="428" width="3" height="90" fill="#fff"/>
<rect x="737" y="323" width="1" height="56"/>
<rect x="735" y="344" width="5" height="2"/>
<rect x="745" y="319" width="1" height="38"/>
<rect x="743" y="326" width="5" height="14"/>
<rect x="744" y="327" width="3" height="12" fill="#fff"/>
<rect x="753" y="339" width="1" height="28"/>
<rect x="751" y="349" width="5" height="12"/>
<rect x="761" y="312" width="1" height="50"/>
<rect x="759" y="328" width="5" height="33"/>
<rect x="760" y="329" width="3" height="31" fill="#fff"/>
<rect x="769" y="288" width="1" height="49"/>
<rect x="767" y="288" width="5" height="46"/>
<rect x="777" y="331" width="1" height="25"/>
<rect x="775" y="333" width="5" height="9"/>
<rect x="785" y="323" width="1" height="18"/>
<rect x="783" y="327" width="5" height="10"/>
<rect x="784" y="328" width="3" height="8" fill="#fff"/>
<rect x="793" y="288" width="1" height="44"/>
<rect x="791" y="291" width="5" height="37"/>
<rect x="792" y="292" width="3" height="35" fill="#fff"/>
<rect x="801" y="255" width="1" height="34"/>
<rect x="799" y="266" width="5" height="13"/>
<rect x="800" y="267" width="3" height="11" fill="#fff"/>
<rect x="809" y="262" width="1" height="21"/>
<rect x="807" y="266" width="5" height="12"/>
<rect x="817" y="270" width="1" height="24"/>
<rect x="815" y="271" width="5" height="23"/>
<rect x="816" y="272" width="3" height="21" fill="#fff"/>
<rect x="825" y="268" width="1" height="28"/>
<rect x="823" y="270" width="5" height="21"/>
<rect x="833" y="289" width="1" height="33"/>
<rect x="831" y="304" width="5" height="12"/>
<rect x="841" y="312" width="1" height="27"/>
<rect x="839" y="313" width="5" height="21"/>
<rect x="849" y="300" width="1" height="45"/>
<rect x="847" y="308" width="5" height="14"/>
<rect x="848" y="309" width="3" height="12" fill="#fff"/>
<rect x="857" y="302" width="1" height="19"/>
<rect x="855" y="303" width="5" height="5"/>
<rect x="856" y="304" width="3" height="3" fill="#fff"/>
<rect x="865" y="291" width="1" height="18"/>
<rect x="863" y="301" width="5" height="2"/>
<rect x="873" y="289" width="1" height="15"/>
<rect x="871" y="290" width="5" height="13"/>
<rect x="872" y="291" width="3" height="11" fill="#fff"/>
<rect x="881" y="261" width="1" height="22"/>
<rect x="879" y="272" width="5" height="1"/>
<rect x="889" y="256" width="1" height="22"/>
<rect x="887" y="272" width="5" height="2"/>
<rect x="897" y="263" width="1" height="29"/>
<rect x="895" y="266" width="5" height="18"/>
<rect x="905" y="274" width="1" height="17"/>
<rect x="903" y="283" width="5" height="4"/>
<rect x="913" y="291" width="1" height="29"/>
<rect x="911" y="297" width="5" height="11"/>
<rect x="912" y="298" width="3" height="9" fill="#fff"/>
<rect x="921" y="280" width="1" height="25"/>
<rect x="919" y="283" width="5" height="16"/>
<rect x="920" y="284" width="3" height="14" fill="#fff"/>
<rect x="929" y="254" width="1" height="23"/>
<rect x="927" y="260" width="5" height="8"/>
<rect x="928" y="261" width="3" height="6" fill="#fff"/>
<rect x="937" y="245" width="1" height="17"/>
<rect x="935" y="249" width="5" height="12"/>
<rect x="936" y="250" width="3" height="10" fill="#fff"/>
<rect x="945" y="263" width="1" height="22"/>
<rect x="943" y="266" width="5" height="6"/>
<rect x="953" y="266" width="1" height="20"/>
<rect x="951" y="271" width="5" height="9"/>
<rect x="961" y="268" width="1" height="35"/>
<rect x="959" y="295" width="5" height="8"/>
<rect x="969" y="288" width="1" height="17"/>
<rect x="967" y="300" width="5" height="3"/>
<rect x="968" y="301" width="3" height="1" fill="#fff"/>
<rect x="977" y="299" width="1" height="19"/>
<rect x="975" y="306" width="5" height="3"/>
<rect x="985" y="289" width="1" height="23"/>
<rect x="983" y="290" width="5" height="20"/>
<rect x="984" y="291" width="3" height="18" fill="#fff"/>
<rect x="993" y="301" width="1" height="42"/>
<rect x="991" y="302" width="5" height="34"/>
<rect x="1001" y="334" width="1" height="19"/>
<rect x="999" y="336" width="5" height="15"/>
<rect x="1009" y="328" width="1" height="33"/>
<rect x="1007" y="338" width="5" height="15"/>
<rect x="1017" y="321" width="1" height="43"/>
<rect x="1015" y="337" width="5" height="19"/>
<rect x="1016" y="338" width="3" height="17" fill="#fff"/>
<rect x="1025" y="330" width="1" height="22"/>
<rect x="1023" y="335" width="5" height="4"/>
<rect x="1024" y="336" width="3" height="2" fill="#fff"/>
<rect x="1033" y="321" width="1" height="21"/>
<rect x="1031" y="336" width="5" height="2"/>
<rect x="1041" y="319" width="1" height="16"/>
<rect x="1039" y="326" width="5" height="4"/>
<rect x="1040" y="327" width="3" height="2" fill="#fff"/>
<rect x="1049" y="316" width="1" height="14"/>
<rect x="1047" y="321" width="5" height="5"/>
<rect x="1048" y="322" width="3" height="3" fill="#fff"/>
<rect x="1057" y="345" width="1" height="27"/>
<rect x="1055" y="351" width="5" height="2"/>
<rect x="1065" y="347" width="1" height="17"/>
<rect x="1063" y="352" width="5" height="8"/>
<rect x="1073" y="346" width="1" height="22"/>
<rect x="1071" y="346" width="5" height="14"/>
<rect x="1072" y="347" width="3" height="12" fill="#fff"/>
<rect x="1081" y="344" width="1" height="26"/>
<rect x="1079" y="347" width="5" height="19"/>
<rect x="1089" y="366" width="1" height="26"/>
<rect x="1087" y="375" width="5" height="17"/>
<rect x="1097" y="380" width="1" height="20"/>
<rect x="1095" y="386" width="5" height="6"/>
<rect x="1096" y="387" width="3" height="4" fill="#fff"/>
<rect x="1105" y="390" width="1" height="34"/>
<rect x="1103" y="393" width="5" height="27"/>
<rect x="1104" y="394" width="3" height="25" fill="#fff"/>
<rect x="1113" y="382" width="1" height="14"/>
<rect x="1111" y="390" width="5" height="4"/>
<rect x="1112" y="391" width="3" height="2" fill="#fff"/>
<rect x="1121" y="415" width="1" height="21"/>
<rect x="1119" y="419" width="5" height="10"/>
<rect x="1129" y="427" width="1" height="24"/>
<rect x="1127" y="430" width="5" height="21"/>
<rect x="1137" y="416" width="1" height="25"/>
<rect x="1135" y="416" width="5" height="18"/>
<rect x="1136" y="417" width="3" height="16" fill="#fff"/>
<rect x="1145" y="415" width="1" height="30"/>
<rect x="1143" y="416" width="5" height="23"/>
<rect x="1153" y="444" width="1" height="20"/>
<rect x="1151" y="447" width="5" height="6"/>
<rect x="1152" y="448" width="3" height="4" fill="#fff"/>
<rect x="1161" y="439" width="1" height="17"/>
<rect x="1159" y="447" width="5" height="2"/>
<rect x="1169" y="422" width="1" height="27"/>
<rect x="1167" y="432" width="5" height="8"/>
<rect x="1168" y="433" width="3" height="6" fill="#fff"/>
<rect x="1177" y="421" width="1" height="27"/>
<rect x="1175" y="422" width="5" height="9"/>
<rect x="1176" y="423" width="3" height="7" fill="#fff"/>
<rect x="1185" y="376" width="1" height="66"/>
<rect x="1183" y="394" width="5" height="40"/>
<rect x="1184" y="395" width="3" height="38" fill="#fff"/>
<rect x="1193" y="354" width="1" height="37"/>
<rect x="1191" y="360" width="5" height="31"/>
<rect x="1192" y="361" width="3" height="29" fill="#fff"/>
<rect x="1201" y="354" width="1" height="41"/>
<rect x="1199" y="359" width="5" height="17"/>
<rect x="1200" y="360" width="3" height="15" fill="#fff"/>
<rect x="1209" y="345" width="1" height="20"/>
<rect x="1207" y="358" width="5" height="7"/>
<rect x="1217" y="361" width="1" height="21"/>
<rect x="1215" y="362" width="5" height="19"/>
<rect x="1225" y="375" width="1" height="11"/>
<rect x="1223" y="381" width="5" height="1"/>
<rect x="1233" y="344" width="1" height="30"/>
<rect x="1231" y="357" width="5" height="11"/>
<rect x="1241" y="364" width="1" height="27"/>
<rect x="1239" y="367" width="5" height="20"/>
<rect x="1249" y="420" width="1" height="27"/>
<rect x="1247" y="428" width="5" height="12"/>
<rect x="1257" y="435" width="1" height="13"/>
<rect x="1255" y="443" width="5" height="2"/>
<rect x="1265" y="470" width="1" height="36"/>
<rect x="1263" y="487" width="5" height="6"/>
<rect x="1264" y="488" width="3" height="4" fill="#fff"/>
<rect x="1273" y="461" width="1" height="25"/>
<rect x="1271" y="476" width="5" height="10"/>
<rect x="1272" y="477" width="3" height="8" fill="#fff"/>
<rect x="1281" y="446" width="1" height="40"/>
<rect x="1279" y="446" width="5" height="38"/>
<rect x="1280" y="447" width="3" height="36" fill="#fff"/>
<rect x="1289" y="437" width="1" height="25"/>
<rect x="1287" y="448" width="5" height="6"/>
<rect x="1297" y="465" width="1" height="19"/>
<rect x="1295" y="472" width="5" height="9"/>
<rect x="1296" y="473" width="3" height="7" fill="#fff"/>
<rect x="1305" y="474" width="1" height="20"/>
<rect x="1303" y="474" width="5" height="20"/>
<rect x="1313" y="456" width="1" height="22"/>
<rect x="1311" y="459" width="5" height="17"/>
<rect x="1312" y="460" width="3" height="15" fill="#fff"/>
<rect x="1321" y="447" width="1" height="18"/>
<rect x="1319" y="453" width="5" height="6"/>
<rect x="1320" y="454" width="3" height="4" fill="#fff"/>
<rect x="1329" y="429" width="1" height="32"/>
<rect x="1327" y="431" width="5" height="26"/>
<rect x="1337" y="441" width="1" height="16"/>
<rect x="1335" y="442" width="5" height="15"/>
<rect x="1336" y="443" width="3" height="13" fill="#fff"/>
<rect x="1345" y="409" width="1" height="25"/>
<rect x="1343" y="412" width="5" height="22"/>
<rect x="1344" y="413" width="3" height="20" fill="#fff"/>
<rect x="1353" y="392" width="1" height="21"/>
<rect x="1351" y="393" width="5" height="19"/>
<rect x="1352" y="394" width="3" height="17" fill="#fff"/>
<rect x="1361" y="398" width="1" height="15"/>
<rect x="1359" y="403" width="5" height="5"/>
<rect x="1369" y="396" width="1" height="16"/>
<rect x="1367" y="400" width="5" height="9"/>
<rect x="1368" y="401" width="3" height="7" fill="#fff"/>
<rect x="1377" y="420" width="1" height="30"/>
<rect x="1375" y="428" width="5" height="9"/>
<rect x="1376" y="429" width="3" height="7" fill="#fff"/>
<rect x="1385" y="425" width="1" height="10"/>
<rect x="1383" y="428" width="5" height="6"/>
<rect x="1393" y="396" width="1" height="15"/>
<rect x="1391" y="404" width="5" height="2"/>
<rect x="1401" y="379" width="1" height="23"/>
<rect x="1399" y="389" width="5" height="9"/>
<rect x="1400" y="390" width="3" height="7" fill="#fff"/>
<rect x="1409" y="382" width="1" height="37"/>
<rect x="1407" y="386" width="5" height="31"/>
<rect x="1417" y="402" width="1" height="17"/>
<rect x="1415" y="404" width="5" height="15"/>
<rect x="1416" y="405" width="3" height="13" fill="#fff"/>
<rect x="1425" y="398" width="1" height="30"/>
<rect x="1423" y="407" width="5" height="17"/>
<rect x="1433" y="424" width="1" height="15"/>
<rect x="1431" y="424" width="5" height="8"/>
</g>
<polygon points="1439,29 1448,29 1443.5,34" fill="#c0c0c0"/>
</g>
<g clip-path="url(#cd)"><g fill="#c0c0c0">
<rect x="1" y="629" width="1" height="10"/>
<rect x="9" y="629" width="1" height="10"/>
<rect x="17" y="629" width="1" height="6"/>
<rect x="25" y="628" width="1" height="1"/>
<rect x="33" y="627" width="1" height="2"/>
<rect x="41" y="623" width="1" height="6"/>
<rect x="49" y="621" width="1" height="8"/>
<rect x="57" y="614" width="1" height="15"/>
<rect x="65" y="609" width="1" height="20"/>
<rect x="73" y="603" width="1" height="26"/>
<rect x="81" y="599" width="1" height="30"/>
<rect x="89" y="599" width="1" height="30"/>
<rect x="97" y="597" width="1" height="32"/>
<rect x="105" y="598" width="1" height="31"/>
<rect x="113" y="599" width="1" height="30"/>
<rect x="121" y="600" width="1" height="29"/>
<rect x="129" y="603" width="1" height="26"/>
<rect x="137" y="604" width="1" height="25"/>
<rect x="145" y="606" width="1" height="23"/>
<rect x="153" y="602" width="1" height="27"/>
<rect x="161" y="597" width="1" height="32"/>
<rect x="169" y="595" width="1" height="34"/>
<rect x="177" y="593" width="1" height="36"/>
<rect x="185" y="594" width="1" height="35"/>
<rect x="193" y="595" width="1" height="34"/>
<rect x="201" y="599" width="1" height="30"/>
<rect x="209" y="604" width="1" height="25"/>
<rect x="217" y="608" width="1" height="21"/>
<rect x="225" y="610" width="1" height="19"/>
<rect x="233" y="619" width="1" height="10"/>
<rect x="241" y="624" width="1" height="5"/>
<rect x="249" y="628" width="1" height="1"/>
<rect x="257" y="629" width="1" height="6"/>
<rect x="265" y="629" width="1" height="7"/>
<rect x="273" y="629" width="1" height="2"/>
<rect x="281" y="626" width="1" height="3"/>
<rect x="289" y="623" width="1" height="6"/>
<rect x="297" y="621" width="1" height="8"/>
<rect x="305" y="622" width="1" height="7"/>
<rect x="313" y="621" width="1" height="8"/>
<rect x="321" y="616" width="1" height="13"/>
<rect x="329" y="613" width="1" height="16"/>
<rect x="337" y="611" width="1" height="18"/>
<rect x="345" y="607" width="1" height="22"/>
<rect x="353" y="605" width="1" height="24"/>
<rect x="361" y="605" width="1" height="24"/>
<rect x="369" y="607" width="1" height="22"/>
<rect x="377" y="610" width="1" height="19"/>
<rect x="385" y="613" width="1" height="16"/>
<rect x="393" y="615" width="1" height="14"/>
<rect x="401" y="615" width="1" height="14"/>
<rect x="409" y="615" width="1" height="14"/>
<rect x="417" y="616" width="1" height="13"/>
<rect x="425" y="616" width="1" height="13"/>
<rect x="433" y="616" width="1" height="13"/>
<rect x="441" y="620" width="1" height="9"/>
<rect x="449" y="624" width="1" height="5"/>
<rect x="457" y="627" width="1" height="2"/>
<rect x="465" y="629" width="1" height="7"/>
<rect x="473" y="629" width="1" height="13"/>
<rect x="481" y="629" width="1" height="17"/>
<rect x="489" y="629" width="1" height="20"/>
<rect x="497" y="629" width="1" height="29"/>
<rect x="505" y="629" width="1" height="36"/>
<rect x="513" y="629" width="1" height="42"/>
<rect x="521" y="629" width="1" height="47"/>
<rect x="529" y="629" width="1" height="53"/>
<rect x="537" y="629" width="1" height="54"/>
<rect x="545" y="629" width="1" height="55"/>
<rect x="553" y="629" width="1" height="55"/>
<rect x="561" y="629" width="1" height="56"/>
<rect x="569" y="629" width="1" height="57"/>
<rect x="577" y="629" width="1" height="57"/>
<rect x="585" y="629" width="1" height="57"/>
<rect x="593" y="629" width="1" height="60"/>
<rect x="601" y="629" width="1" height="62"/>
<rect x="609" y="629" width="1" height="70"/>
<rect x="617" y="629" width="1" height="76"/>
<rect x="625" y="629" width="1" height="81"/>
<rect x="633" y="629" width="1" height="84"/>
<rect x="641" y="629" width="1" height="90"/>
<rect x="649" y="629" width="1" height="92"/>
<rect x="657" y="629" width="1" height="90"/>
<rect x="665" y="629" width="1" height="87"/>
<rect x="673" y="629" width="1" height="89"/>
<rect x="681" y="629" width="1" height="88"/>
<rect x="689" y="629" width="1" height="92"/>
<rect x="697" y="629" width="1" height="96"/>
<rect x="705" y="629" width="1" height="103"/>
<rect x="713" y="629" width="1" height="114"/>
<rect x="721" y="629" width="1" height="115"/>
<rect x="729" y="629" width="1" height="104"/>
<rect x="737" y="629" width="1" height="85"/>
<rect x="745" y="629" width="1" height="66"/>
<rect x="753" y="629" width="1" height="55"/>
<rect x="761" y="629" width="1" height="42"/>
<rect x="769" y="629" width="1" height="32"/>
<rect x="777" y="629" width="1" height="24"/>
<rect x="785" y="629" width="1" height="17"/>
<rect x="793" y="629" width="1" height="6"/>
<rect x="801" y="624" width="1" height="5"/>
<rect x="809" y="616" width="1" height="13"/>
<rect x="817" y="610" width="1" height="19"/>
<rect x="825" y="607" width="1" height="22"/>
<rect x="833" y="608" width="1" height="21"/>
<rect x="841" y="612" width="1" height="17"/>
<rect x="849" y="611" width="1" height="18"/>
<rect x="857" y="611" width="1" height="18"/>
<rect x="865" y="611" width="1" height="18"/>
<rect x="873" y="609" width="1" height="20"/>
<rect x="881" y="606" width="1" height="23"/>
<rect x="889" y="604" width="1" height="25"/>
<rect x="897" y="604" width="1" height="25"/>
<rect x="905" y="604" width="1" height="25"/>
<rect x="913" y="606" width="1" height="23"/>
<rect x="921" y="607" width="1" height="22"/>
<rect x="929" y="604" width="1" height="25"/>
<rect x="937" y="601" width="1" height="28"/>
<rect x="945" y="602" width="1" height="27"/>
<rect x="953" y="604" width="1" height="25"/>
<rect x="961" y="608" width="1" height="21"/>
<rect x="969" y="612" width="1" height="17"/>
<rect x="977" y="616" width="1" height="13"/>
<rect x="985" y="616" width="1" height="13"/>
<rect x="993" y="623" width="1" height="6"/>
<rect x="1001" y="629" width="1" height="1"/>
<rect x="1009" y="629" width="1" height="6"/>
<rect x="1017" y="629" width="1" height="9"/>
<rect x="1025" y="629" width="1" height="10"/>
<rect x="1033" y="629" width="1" height="12"/>
<rect x="1041" y="629" width="1" height="11"/>
<rect x="1049" y="629" width="1" height="10"/>
<rect x="1057" y="629" width="1" height="13"/>
<rect x="1065" y="629" width="1" height="16"/>
<rect x="1073" y="629" width="1" height="16"/>
<rect x="1081" y="629" width="1" height="19"/>
<rect x="1089" y="629" width="1" height="24"/>
<rect x="1097" y="629" width="1" height="26"/>
<rect x="1105" y="629" width="1" height="29"/>
<rect x="1113" y="629" width="1" height="31"/>
<rect x="1121" y="629" width="1" height="36"/>
<rect x="1129" y="629" width="1" height="43"/>
<rect x="1137" y="629" width="1" height="43"/>
<rect x="1145" y="629" width="1" height="46"/>
<rect x="1153" y="629" width="1" height="48"/>
<rect x="1161" y="629" width="1" height="50"/>
<rect x="1169" y="629" width="1" height="48"/>
<rect x="1177" y="629" width="1" height="46"/>
<rect x="1185" y="629" width="1" height="40"/>
<rect x="1193" y="629" width="1" height="30"/>
<rect x="1201" y="629" width="1" height="23"/>
<rect x="1209" y="629" width="1" height="17"/>
<rect x="1217" y="629" width="1" height="14"/>
<rect x="1225" y="629" width="1" height="12"/>
<rect x="1233" y="629" width="1" height="9"/>
<rect x="1241" y="629" width="1" height="8"/>
<rect x="1249" y="629" width="1" height="14"/>
<rect x="1257" y="629" width="1" height="19"/>
<rect x="1265" y="629" width="1" height="27"/>
<rect x="1273" y="629" width="1" height="33"/>
<rect x="1281" y="629" width="1" height="33"/>
<rect x="1289" y="629" width="1" height="33"/>
<rect x="1297" y="629" width="1" height="36"/>
<rect x="1305" y="629" width="1" height="40"/>
<rect x="1313" y="629" width="1" height="38"/>
<rect x="1321" y="629" width="1" height="36"/>
<rect x="1329" y="629" width="1" height="34"/>
<rect x="1337" y="629" width="1" height="30"/>
<rect x="1345" y="629" width="1" height="24"/>
<rect x="1353" y="629" width="1" height="16"/>
<rect x="1361" y="629" width="1" height="11"/>
<rect x="1369" y="629" width="1" height="7"/>
<rect x="1377" y="629" width="1" height="6"/>
<rect x="1385" y="629" width="1" height="7"/>
<rect x="1393" y="629" width="1" height="3"/>
<rect x="1401" y="628" width="1" height="1"/>
<rect x="1409" y="628" width="1" height="1"/>
<rect x="1417" y="626" width="1" height="3"/>
<rect x="1425" y="627" width="1" height="2"/>
<rect x="1433" y="629" width="1" height="1"/>
</g>
<polyline points="1.5,640.5 9.5,640.1 17.5,639.8 25.5,638.5 33.5,637.5 41.5,635.4 49.5,634.3 57.5,631.0 65.5,626.7 73.5,622.8 81.5,618.4 89.5,614.4 97.5,610.9 105.5,607.7 113.5,605.0 121.5,602.6 129.5,601.3 137.5,600.7 145.5,600.9 153.5,601.3 161.5,601.1 169.5,600.8 177.5,600.2 185.5,599.7 193.5,599.1 201.5,598.7 209.5,598.7 217.5,598.9 225.5,599.8 233.5,602.2 241.5,605.5 249.5,609.3 257.5,613.8 265.5,618.4 273.5,621.9 281.5,624.4 289.5,626.1 297.5,627.3 305.5,627.6 313.5,627.3 321.5,626.1 329.5,623.6 337.5,620.9 345.5,618.3 353.5,616.0 361.5,613.9 369.5,612.4 377.5,611.1 385.5,610.2 393.5,610.0 401.5,610.3 409.5,610.7 417.5,611.6 425.5,612.8 433.5,614.1 441.5,615.5 449.5,617.0 457.5,618.6 465.5,621.0 473.5,624.0 481.5,627.5 489.5,631.1 497.5,635.8 505.5,641.3 513.5,647.0 521.5,652.7 529.5,658.7 537.5,663.9 545.5,668.5 553.5,672.8 561.5,676.9 569.5,680.0 577.5,682.4 585.5,684.1 593.5,685.6 601.5,686.6 609.5,688.4 617.5,690.8 625.5,693.6 633.5,696.7 641.5,700.3 649.5,704.2 657.5,707.9 665.5,710.9 673.5,713.9 681.5,715.9 689.5,717.6 697.5,719.3 705.5,721.4 713.5,724.0 721.5,726.5 729.5,728.2 737.5,727.9 745.5,725.4 753.5,721.8 761.5,716.2 769.5,709.2 777.5,700.4 785.5,689.7 793.5,677.5 801.5,665.3 809.5,654.5 817.5,644.9 825.5,636.4 833.5,629.4 841.5,623.9 849.5,619.3 857.5,615.4 865.5,612.7 873.5,611.0 881.5,609.9 889.5,609.3 897.5,608.9 905.5,608.5 913.5,607.9 921.5,607.3 929.5,606.6 937.5,605.6 945.5,604.8 953.5,604.5 961.5,605.0 969.5,605.9 977.5,607.1 985.5,608.2 993.5,610.0 1001.5,612.9 1009.5,616.7 1017.5,620.6 1025.5,624.6 1033.5,628.2 1041.5,631.3 1049.5,633.9 1057.5,636.8 1065.5,639.2 1073.5,641.0 1081.5,642.4 1089.5,644.0 1097.5,645.8 1105.5,647.8 1113.5,650.0 1121.5,652.9 1129.5,656.2 1137.5,659.2 1145.5,662.4 1153.5,665.7 1161.5,668.5 1169.5,671.0 1177.5,672.8 1185.5,673.7 1193.5,673.1 1201.5,670.9 1209.5,668.0 1217.5,664.5 1225.5,660.5 1233.5,655.9 1241.5,651.5 1249.5,647.9 1257.5,645.6 1265.5,645.3 1273.5,646.4 1281.5,648.2 1289.5,650.3 1297.5,652.9 1305.5,656.3 1313.5,659.7 1321.5,662.1 1329.5,663.8 1337.5,664.1 1345.5,663.2 1353.5,661.3 1361.5,658.9 1369.5,655.6 1377.5,652.0 1385.5,648.5 1393.5,644.9 1401.5,641.0 1409.5,637.5 1417.5,634.5 1425.5,632.6 1433.5,631.3" fill="none" stroke="#ff0000" stroke-width="1" stroke-dasharray="3 2"/>
</g>
<g clip-path="url(#cr)">
<line x1="2" y1="791.5" x2="1660" y2="791.5" stroke="#c0c0c0" stroke-width="1" stroke-dasharray="3 3"/>
<line x1="2" y1="842.5" x2="1660" y2="842.5" stroke="#c0c0c0" stroke-width="1" stroke-dasharray="3 3"/>
<line x1="2" y1="903.5" x2="1660" y2="903.5" stroke="#c0c0c0" stroke-width="1" stroke-dasharray="3 3"/>
<polyline points="1.5,851.5 9.5,837.8 17.5,833.7 25.5,824.9 33.5,826.1 41.5,820.8 49.5,827.2 57.5,812.0 65.5,808.5 73.5,807.0 81.5,805.8 89.5,820.8 97.5,814.7 105.5,822.5 113.5,826.1 121.5,826.1 129.5,833.9 137.5,831.1 145.5,833.1 153.5,810.8 161.5,805.8 169.5,817.0 177.5,814.0 185.5,822.5 193.5,824.9 201.5,837.1 209.5,841.2 217.5,839.6 225.5,837.6 233.5,861.8 241.5,854.6 249.5,861.1 257.5,865.3 265.5,849.6 273.5,831.5 281.5,829.0 289.5,831.7 297.5,831.7 305.5,841.4 313.5,837.0 321.5,824.3 329.5,823.7 337.5,828.4 345.5,821.1 353.5,823.7 361.5,826.6 369.5,836.9 377.5,842.6 385.5,843.9 393.5,839.9 401.5,834.0 409.5,832.8 417.5,839.5 425.5,833.5 433.5,834.2 441.5,849.5 449.5,854.6 457.5,854.6 465.5,874.0 473.5,868.0 481.5,863.6 489.5,864.1 497.5,881.5 505.5,882.1 513.5,881.5 521.5,884.6 529.5,888.8 537.5,875.0 545.5,876.0 553.5,877.2 561.5,879.5 569.5,882.1 577.5,879.5 585.5,879.5 593.5,890.4 601.5,887.4 609.5,897.5 617.5,899.4 625.5,899.5 633.5,900.1 641.5,905.6 649.5,892.9 657.5,878.4 665.5,879.7 673.5,887.8 681.5,877.1 689.5,886.7 697.5,888.7 705.5,894.5 713.5,899.4 721.5,882.8 729.5,855.4 737.5,838.7 745.5,835.2 753.5,842.4 761.5,836.3 769.5,837.5 777.5,839.4 785.5,836.3 793.5,829.4 801.5,824.9 809.5,828.0 817.5,826.8 825.5,832.3 833.5,839.0 841.5,843.5 849.5,837.3 857.5,836.1 865.5,836.0 873.5,832.7 881.5,828.3 889.5,828.6 897.5,832.3 905.5,833.5 913.5,837.6 921.5,833.0 929.5,825.8 937.5,822.7 945.5,832.5 953.5,835.8 961.5,844.6 969.5,843.7 977.5,846.9 985.5,839.4 993.5,855.6 1001.5,860.1 1009.5,860.8 1017.5,853.6 1025.5,852.7 1033.5,853.6 1041.5,847.9 1049.5,845.9 1057.5,858.3 1065.5,860.9 1073.5,853.7 1081.5,860.7 1089.5,868.8 1097.5,865.9 1105.5,868.1 1113.5,866.4 1121.5,877.6 1129.5,882.7 1137.5,864.5 1145.5,870.4 1153.5,872.5 1161.5,873.0 1169.5,864.3 1177.5,859.2 1185.5,846.9 1193.5,834.5 1201.5,834.0 1209.5,836.7 1217.5,843.4 1225.5,843.5 1233.5,837.7 1241.5,846.3 1249.5,863.9 1257.5,865.2 1265.5,875.3 1273.5,870.1 1281.5,857.6 1289.5,859.6 1297.5,864.8 1305.5,870.1 1313.5,855.8 1321.5,853.3 1329.5,854.8 1337.5,848.5 1345.5,837.8 1353.5,831.9 1361.5,837.7 1369.5,835.0 1377.5,845.5 1385.5,847.5 1393.5,836.7 1401.5,832.2 1409.5,842.4 1417.5,838.1 1425.5,845.0 1433.5,847.8" fill="none" stroke="#1e90ff" stroke-width="1"/>
</g>
<rect x="0" y="28" width="1661" height="1" fill="#000"/>
<rect x="0" y="581" width="1661" height="1" fill="#000"/>
<rect x="0" y="28" width="1" height="554" fill="#000"/>
<rect x="1660" y="28" width="1" height="554" fill="#000"/>
<rect x="0" y="583" width="1661" height="1" fill="#000"/>
<rect x="0" y="753" width="1661" height="1" fill="#000"/>
<rect x="0" y="583" width="1" height="171" fill="#000"/>
<rect x="1660" y="583" width="1" height="171" fill="#000"/>
<rect x="0" y="755" width="1661" height="1" fill="#000"/>
<rect x="0" y="929" width="1661" height="1" fill="#000"/>
<rect x="0" y="755" width="1" height="175" fill="#000"/>
<rect x="1660" y="755" width="1" height="175" fill="#000"/>
<rect x="1661" y="50" width="2" height="1" fill="#000"/>
<text transform="translate(1666 54) scale(0.93 1)" style="font-family:'Liberation Sans',sans-serif;font-size:9.8px;stroke:currentColor;stroke-width:0.22px;text-rendering:geometricPrecision">25122.0</text>
<rect x="1661" y="83" width="2" height="1" fill="#000"/>
<text transform="translate(1666 87) scale(0.93 1)" style="font-family:'Liberation Sans',sans-serif;font-size:9.8px;stroke:currentColor;stroke-width:0.22px;text-rendering:geometricPrecision">24680.0</text>
<rect x="1661" y="116" width="2" height="1" fill="#000"/>
<text transform="translate(1666 120) scale(0.93 1)" style="font-family:'Liberation Sans',sans-serif;font-size:9.8px;stroke:currentColor;stroke-width:0.22px;text-rendering:geometricPrecision">24238.0</text>
<rect x="1661" y="149" width="2" height="1" fill="#000"/>
<text transform="translate(1666 153) scale(0.93 1)" style="font-family:'Liberation Sans',sans-serif;font-size:9.8px;stroke:currentColor;stroke-width:0.22px;text-rendering:geometricPrecision">23796.0</text>
<rect x="1661" y="182" width="2" height="1" fill="#000"/>
<text transform="translate(1666 186) scale(0.93 1)" style="font-family:'Liberation Sans',sans-serif;font-size:9.8px;stroke:currentColor;stroke-width:0.22px;text-rendering:geometricPrecision">23367.0</text>
<rect x="1661" y="215" width="2" height="1" fill="#000"/>
<text transform="translate(1666 219) scale(0.93 1)" style="font-family:'Liberation Sans',sans-serif;font-size:9.8px;stroke:currentColor;stroke-width:0.22px;text-rendering:geometricPrecision">22925.0</text>
<rect x="1661" y="248" width="2" height="1" fill="#000"/>
<text transform="translate(1666 252) scale(0.93 1)" style="font-family:'Liberation Sans',sans-serif;font-size:9.8px;stroke:currentColor;stroke-width:0.22px;text-rendering:geometricPrecision">22483.0</text>
<rect x="1661" y="281" width="2" height="1" fill="#000"/>
<text transform="translate(1666 285) scale(0.93 1)" style="font-family:'Liberation Sans',sans-serif;font-size:9.8px;stroke:currentColor;stroke-width:0.22px;text-rendering:geometricPrecision">22041.0</text>
<rect x="1661" y="314" width="2" height="1" fill="#000"/>
<text transform="translate(1666 318) scale(0.93 1)" style="font-family:'Liberation Sans',sans-serif;font-size:9.8px;stroke:currentColor;stroke-width:0.22px;text-rendering:geometricPrecision">21612.0</text>
<rect x="1661" y="347" width="2" height="1" fill="#000"/>
<text transform="translate(1666 351) scale(0.93 1)" style="font-family:'Liberation Sans',sans-serif;font-size:9.8px;stroke:currentColor;stroke-width:0.22px;text-rendering:geometricPrecision">21170.0</text>
<rect x="1661" y="380" width="2" height="1" fill="#000"/>
<text transform="translate(1666 384) scale(0.93 1)" style="font-family:'Liberation Sans',sans-serif;font-size:9.8px;stroke:currentColor;stroke-width:0.22px;text-rendering:geometricPrecision">20728.0</text>
<rect x="1661" y="413" width="2" height="1" fill="#000"/>
<text transform="translate(1666 417) scale(0.93 1)" style="font-family:'Liberation Sans',sans-serif;font-size:9.8px;stroke:currentColor;stroke-width:0.22px;text-rendering:geometricPrecision">20286.0</text>
<rect x="1661" y="446" width="2" height="1" fill="#000"/>
<text transform="translate(1666 450) scale(0.93 1)" style="font-family:'Liberation Sans',sans-serif;font-size:9.8px;stroke:currentColor;stroke-width:0.22px;text-rendering:geometricPrecision">19857.0</text>
<rect x="1661" y="479" width="2" height="1" fill="#000"/>
<text transform="translate(1666 483) scale(0.93 1)" style="font-family:'Liberation Sans',sans-serif;font-size:9.8px;stroke:currentColor;stroke-width:0.22px;text-rendering:geometricPrecision">19415.0</text>
<rect x="1661" y="512" width="2" height="1" fill="#000"/>
<text transform="translate(1666 516) scale(0.93 1)" style="font-family:'Liberation Sans',sans-serif;font-size:9.8px;stroke:currentColor;stroke-width:0.22px;text-rendering:geometricPrecision">18973.0</text>
<rect x="1661" y="545" width="2" height="1" fill="#000"/>
<text transform="translate(1666 549) scale(0.93 1)" style="font-family:'Liberation Sans',sans-serif;font-size:9.8px;stroke:currentColor;stroke-width:0.22px;text-rendering:geometricPrecision">18531.0</text>
<rect x="1661" y="578" width="2" height="1" fill="#000"/>
<text transform="translate(1666 582) scale(0.93 1)" style="font-family:'Liberation Sans',sans-serif;font-size:9.8px;stroke:currentColor;stroke-width:0.22px;text-rendering:geometricPrecision">18102.0</text>
<rect x="1661" y="585" width="1" height="1" fill="#000"/>
<text transform="translate(1665 594) scale(0.93 1)" style="font-family:'Liberation Sans',sans-serif;font-size:9.8px;stroke:currentColor;stroke-width:0.22px;text-rendering:geometricPrecision">389.44</text>
<rect x="1661" y="628" width="2" height="1" fill="#000"/>
<text transform="translate(1666 632) scale(0.93 1)" style="font-family:'Liberation Sans',sans-serif;font-size:9.8px;stroke:currentColor;stroke-width:0.22px;text-rendering:geometricPrecision">0.00</text>
<rect x="1661" y="752" width="1" height="1" fill="#000"/>
<text transform="translate(1664 750) scale(0.93 1)" style="font-family:'Liberation Sans',sans-serif;font-size:9.8px;stroke:currentColor;stroke-width:0.22px;text-rendering:geometricPrecision">-1099.78</text>
<rect x="1661" y="757" width="1" height="1" fill="#000"/>
<text transform="translate(1665 766) scale(0.93 1)" style="font-family:'Liberation Sans',sans-serif;font-size:9.8px;stroke:currentColor;stroke-width:0.22px;text-rendering:geometricPrecision">100</text>
<rect x="1661" y="791" width="2" height="1" fill="#000"/>
<text transform="translate(1665 795) scale(0.93 1)" style="font-family:'Liberation Sans',sans-serif;font-size:9.8px;stroke:currentColor;stroke-width:0.22px;text-rendering:geometricPrecision">80</text>
<rect x="1661" y="842" width="2" height="1" fill="#000"/>
<text transform="translate(1665 846) scale(0.93 1)" style="font-family:'Liberation Sans',sans-serif;font-size:9.8px;stroke:currentColor;stroke-width:0.22px;text-rendering:geometricPrecision">50</text>
<rect x="1661" y="903" width="2" height="1" fill="#000"/>
<text transform="translate(1665 907) scale(0.93 1)" style="font-family:'Liberation Sans',sans-serif;font-size:9.8px;stroke:currentColor;stroke-width:0.22px;text-rendering:geometricPrecision">15</text>
<rect x="1661" y="928" width="1" height="1" fill="#000"/>
<text transform="translate(1665 926) scale(0.93 1)" style="font-family:'Liberation Sans',sans-serif;font-size:9.8px;stroke:currentColor;stroke-width:0.22px;text-rendering:geometricPrecision">0</text>
<rect x="1662" y="347" width="41" height="11" fill="#ff0000"/>
<text transform="translate(1666 356) scale(0.93 1)" style="font-family:'Liberation Sans',sans-serif;font-size:9.8px;stroke:currentColor;stroke-width:0.22px;text-rendering:geometricPrecision;fill:#fff;color:#fff">21089.8</text>
<rect x="1662" y="379" width="41" height="11" fill="#ff0000"/>
<text transform="translate(1666 388) scale(0.93 1)" style="font-family:'Liberation Sans',sans-serif;font-size:9.8px;stroke:currentColor;stroke-width:0.22px;text-rendering:geometricPrecision;fill:#fff;color:#fff">20665.0</text>
<rect x="1662" y="412" width="41" height="11" fill="#32cd32"/>
<text transform="translate(1666 421) scale(0.93 1)" style="font-family:'Liberation Sans',sans-serif;font-size:9.8px;stroke:currentColor;stroke-width:0.22px;text-rendering:geometricPrecision;fill:#fff;color:#fff">20226.9</text>
<rect x="1662" y="425" width="41" height="11" fill="#000000"/>
<text transform="translate(1666 434) scale(0.93 1)" style="font-family:'Liberation Sans',sans-serif;font-size:9.8px;stroke:currentColor;stroke-width:0.22px;text-rendering:geometricPrecision;fill:#fff;color:#fff">20055.5</text>
<rect x="1662" y="456" width="41" height="11" fill="#0000ff"/>
<text transform="translate(1666 465) scale(0.93 1)" style="font-family:'Liberation Sans',sans-serif;font-size:9.8px;stroke:currentColor;stroke-width:0.22px;text-rendering:geometricPrecision;fill:#fff;color:#fff">19642.8</text>
<rect x="1662" y="487" width="41" height="11" fill="#0000ff"/>
<text transform="translate(1666 496) scale(0.93 1)" style="font-family:'Liberation Sans',sans-serif;font-size:9.8px;stroke:currentColor;stroke-width:0.22px;text-rendering:geometricPrecision;fill:#fff;color:#fff">19231.2</text>
<rect x="1" y="930" width="1" height="3" fill="#000"/>
<text transform="translate(0.4 942) scale(0.93 1)" style="font-family:'Liberation Sans',sans-serif;font-size:9.8px;stroke:currentColor;stroke-width:0.22px;text-rendering:geometricPrecision">6 Jan 2022</text>
<rect x="65" y="930" width="1" height="3" fill="#000"/>
<text transform="translate(64.4 942) scale(0.93 1)" style="font-family:'Liberation Sans',sans-serif;font-size:9.8px;stroke:currentColor;stroke-width:0.22px;text-rendering:geometricPrecision">12 Jan 05:00</text>
<rect x="129" y="930" width="1" height="3" fill="#000"/>
<text transform="translate(128.4 942) scale(0.93 1)" style="font-family:'Liberation Sans',sans-serif;font-size:9.8px;stroke:currentColor;stroke-width:0.22px;text-rendering:geometricPrecision">18 Jan 05:00</text>
<rect x="193" y="930" width="1" height="3" fill="#000"/>
<text transform="translate(192.4 942) scale(0.93 1)" style="font-family:'Liberation Sans',sans-serif;font-size:9.8px;stroke:currentColor;stroke-width:0.22px;text-rendering:geometricPrecision">24 Jan 05:00</text>
<rect x="257" y="930" width="1" height="3" fill="#000"/>
<text transform="translate(256.4 942) scale(0.93 1)" style="font-family:'Liberation Sans',sans-serif;font-size:9.8px;stroke:currentColor;stroke-width:0.22px;text-rendering:geometricPrecision">28 Jan 05:00</text>
<rect x="321" y="930" width="1" height="3" fill="#000"/>
<text transform="translate(320.4 942) scale(0.93 1)" style="font-family:'Liberation Sans',sans-serif;font-size:9.8px;stroke:currentColor;stroke-width:0.22px;text-rendering:geometricPrecision">9 Feb 01:15</text>
<rect x="385" y="930" width="1" height="3" fill="#000"/>
<text transform="translate(384.4 942) scale(0.93 1)" style="font-family:'Liberation Sans',sans-serif;font-size:9.8px;stroke:currentColor;stroke-width:0.22px;text-rendering:geometricPrecision">15 Feb 01:15</text>
<rect x="449" y="930" width="1" height="3" fill="#000"/>
<text transform="translate(448.4 942) scale(0.93 1)" style="font-family:'Liberation Sans',sans-serif;font-size:9.8px;stroke:currentColor;stroke-width:0.22px;text-rendering:geometricPrecision">21 Feb 01:15</text>
<rect x="513" y="930" width="1" height="3" fill="#000"/>
<text transform="translate(512.4 942) scale(0.93 1)" style="font-family:'Liberation Sans',sans-serif;font-size:9.8px;stroke:currentColor;stroke-width:0.22px;text-rendering:geometricPrecision">25 Feb 01:15</text>
<rect x="577" y="930" width="1" height="3" fill="#000"/>
<text transform="translate(576.4 942) scale(0.93 1)" style="font-family:'Liberation Sans',sans-serif;font-size:9.8px;stroke:currentColor;stroke-width:0.22px;text-rendering:geometricPrecision">3 Mar 01:15</text>
<rect x="641" y="930" width="1" height="3" fill="#000"/>
<text transform="translate(640.4 942) scale(0.93 1)" style="font-family:'Liberation Sans',sans-serif;font-size:9.8px;stroke:currentColor;stroke-width:0.22px;text-rendering:geometricPrecision">9 Mar 01:15</text>
<rect x="705" y="930" width="1" height="3" fill="#000"/>
<text transform="translate(704.4 942) scale(0.93 1)" style="font-family:'Liberation Sans',sans-serif;font-size:9.8px;stroke:currentColor;stroke-width:0.22px;text-rendering:geometricPrecision">15 Mar 01:15</text>
<rect x="769" y="930" width="1" height="3" fill="#000"/>
<text transform="translate(768.4 942) scale(0.93 1)" style="font-family:'Liberation Sans',sans-serif;font-size:9.8px;stroke:currentColor;stroke-width:0.22px;text-rendering:geometricPrecision">21 Mar 01:15</text>
<rect x="833" y="930" width="1" height="3" fill="#000"/>
<text transform="translate(832.4 942) scale(0.93 1)" style="font-family:'Liberation Sans',sans-serif;font-size:9.8px;stroke:currentColor;stroke-width:0.22px;text-rendering:geometricPrecision">25 Mar 01:15</text>
<rect x="897" y="930" width="1" height="3" fill="#000"/>
<text transform="translate(896.4 942) scale(0.93 1)" style="font-family:'Liberation Sans',sans-serif;font-size:9.8px;stroke:currentColor;stroke-width:0.22px;text-rendering:geometricPrecision">31 Mar 01:15</text>
<rect x="961" y="930" width="1" height="3" fill="#000"/>
<text transform="translate(960.4 942) scale(0.93 1)" style="font-family:'Liberation Sans',sans-serif;font-size:9.8px;stroke:currentColor;stroke-width:0.22px;text-rendering:geometricPrecision">7 Apr 01:15</text>
<rect x="1025" y="930" width="1" height="3" fill="#000"/>
<text transform="translate(1024.4 942) scale(0.93 1)" style="font-family:'Liberation Sans',sans-serif;font-size:9.8px;stroke:currentColor;stroke-width:0.22px;text-rendering:geometricPrecision">13 Apr 01:15</text>
<rect x="1089" y="930" width="1" height="3" fill="#000"/>
<text transform="translate(1088.4 942) scale(0.93 1)" style="font-family:'Liberation Sans',sans-serif;font-size:9.8px;stroke:currentColor;stroke-width:0.22px;text-rendering:geometricPrecision">21 Apr 01:15</text>
<rect x="1153" y="930" width="1" height="3" fill="#000"/>
<text transform="translate(1152.4 942) scale(0.93 1)" style="font-family:'Liberation Sans',sans-serif;font-size:9.8px;stroke:currentColor;stroke-width:0.22px;text-rendering:geometricPrecision">27 Apr 01:15</text>
<rect x="1217" y="930" width="1" height="3" fill="#000"/>
<text transform="translate(1216.4 942) scale(0.93 1)" style="font-family:'Liberation Sans',sans-serif;font-size:9.8px;stroke:currentColor;stroke-width:0.22px;text-rendering:geometricPrecision">4 May 01:15</text>
<rect x="1281" y="930" width="1" height="3" fill="#000"/>
<text transform="translate(1280.4 942) scale(0.93 1)" style="font-family:'Liberation Sans',sans-serif;font-size:9.8px;stroke:currentColor;stroke-width:0.22px;text-rendering:geometricPrecision">11 May 01:15</text>
<rect x="1345" y="930" width="1" height="3" fill="#000"/>
<text transform="translate(1344.4 942) scale(0.93 1)" style="font-family:'Liberation Sans',sans-serif;font-size:9.8px;stroke:currentColor;stroke-width:0.22px;text-rendering:geometricPrecision">17 May 01:15</text>
<rect x="1409" y="930" width="1" height="3" fill="#000"/>
<text transform="translate(1408.4 942) scale(0.93 1)" style="font-family:'Liberation Sans',sans-serif;font-size:9.8px;stroke:currentColor;stroke-width:0.22px;text-rendering:geometricPrecision">23 May 01:15</text>
<polygon points="3.5,38.5 7.5,34.5 11.5,38.5" fill="#000"/>
<text x="16" y="40" textLength="188" lengthAdjust="spacingAndGlyphs" style="font-family:'Liberation Sans',sans-serif;font-size:9.8px;stroke:currentColor;stroke-width:0.22px;text-rendering:geometricPrecision">HK50-,H4  20138.0 20150.5 19956.0 20055.5</text>
<text x="5" y="596" textLength="119" lengthAdjust="spacingAndGlyphs" style="font-family:'Liberation Sans',sans-serif;font-size:9.8px;stroke:currentColor;stroke-width:0.22px;text-rendering:geometricPrecision">MACD(12,26,9) -2.69 -19.61</text>
<text x="5" y="768" textLength="68" lengthAdjust="spacingAndGlyphs" style="font-family:'Liberation Sans',sans-serif;font-size:9.8px;stroke:currentColor;stroke-width:0.22px;text-rendering:geometricPrecision">RSI(14) 47.3206</text>
<rect x="4" y="48" width="221" height="59" fill="#fff"/>
<path d="M4 48 H56 V72 H112 V105 H4 Z" fill="url(#pg)"/>
<path d="M171 48 H223 V105 H115 V72 H171 Z" fill="url(#pg)"/>
<path d="M55.5 72 V48.5 H4.5 V104.5 H112.5 V72" fill="none" stroke="#a00000" stroke-width="1"/>
<path d="M171.5 72 V48.5 H222.5 V104.5 H115.5 V72" fill="none" stroke="#a00000" stroke-width="1"/>
<rect x="8" y="71" width="44" height="1" fill="#8a0000"/><rect x="8" y="72" width="44" height="1" fill="#f06060"/>
<rect x="175" y="71" width="45" height="1" fill="#8a0000"/><rect x="175" y="72" width="45" height="1" fill="#f06060"/>
<rect x="58.5" y="48.5" width="111" height="21" fill="#fff" stroke="#a9a9a9" stroke-width="1"/>
<rect x="59.5" y="49.5" width="19" height="19" fill="url(#bg)" stroke="#c4c4c4" stroke-width="1"/>
<rect x="148.5" y="49.5" width="19" height="19" fill="url(#bg)" stroke="#c4c4c4" stroke-width="1"/>
<rect x="79" y="49" width="1" height="20" fill="#bcbcbc"/><rect x="147" y="49" width="1" height="20" fill="#bcbcbc"/>
<path d="M66.5 57 H71.5 L69 59.5 Z" fill="#4a64c8" shape-rendering="auto"/>
<path d="M155 60 H160 L157.5 57.5 Z" fill="#4a64c8" shape-rendering="auto"/>
<text x="143.5" y="63.5" text-anchor="end" style="font-family:'Liberation Sans',sans-serif;font-size:12px;fill:#000">1.00</text>
<text x="29" y="64" text-anchor="middle" style="font-family:'DejaVu Sans Condensed','DejaVu Sans',sans-serif;font-stretch:condensed;font-size:12px;fill:#fff">SELL</text>
<text x="196" y="64" text-anchor="middle" style="font-family:'DejaVu Sans Condensed','DejaVu Sans',sans-serif;font-stretch:condensed;font-size:12px;fill:#fff">BUY</text>
<text x="20" y="99.5" style="font-family:'Liberation Sans',sans-serif;font-size:12px;font-weight:bold;fill:#fff">20054</text>
<circle cx="61.3" cy="97.6" r="2" fill="#fff" shape-rendering="auto"/>
<text x="63.6" y="100" style="font-family:'DejaVu Sans',sans-serif;font-weight:200;font-size:32.5px;fill:#fff;stroke:#fff;stroke-width:0.9px">0</text>
<text x="130.5" y="99.5" style="font-family:'Liberation Sans',sans-serif;font-size:12px;font-weight:bold;fill:#fff">20067</text>
<circle cx="172.5" cy="97.6" r="2" fill="#fff" shape-rendering="auto"/>
<text x="174.9" y="100" style="font-family:'DejaVu Sans',sans-serif;font-weight:200;font-size:32.5px;fill:#fff;stroke:#fff;stroke-width:0.9px">0</text>
<g shape-rendering="auto">
<polygon points="1278.6,509.2 1359.6,404.0 1365.2,408.3 1369.0,388.5 1350.9,397.3 1356.4,401.5 1275.4,506.8" fill="#e8192c"/>
<polygon points="1367.1,389.5 1380.0,438.1 1373.2,439.9 1386.5,455.0 1390.6,435.3 1383.8,437.1 1370.9,388.5" fill="#e8192c"/>
<polygon points="1391.4,442.5 1402.6,401.9 1409.4,403.7 1405.5,384.0 1392.0,399.0 1398.8,400.8 1387.6,441.5" fill="#e8192c"/>
<polygon points="1404.3,382.0 1434.4,431.2 1428.4,434.9 1445.5,445.5 1443.8,425.4 1437.8,429.1 1407.7,380.0" fill="#e8192c"/>
<polygon points="1376.0,636.0 1442.5,636.0 1442.5,643.5 1460.5,634.5 1442.5,625.5 1442.5,633.0 1376.0,633.0" fill="#e8192c"/>
<polygon points="1353.9,843.0 1423.9,847.6 1423.4,855.1 1442.0,847.3 1424.6,837.1 1424.1,844.6 1354.1,840.0" fill="#e8192c"/>
</g>
</svg>
</div></body></html>
